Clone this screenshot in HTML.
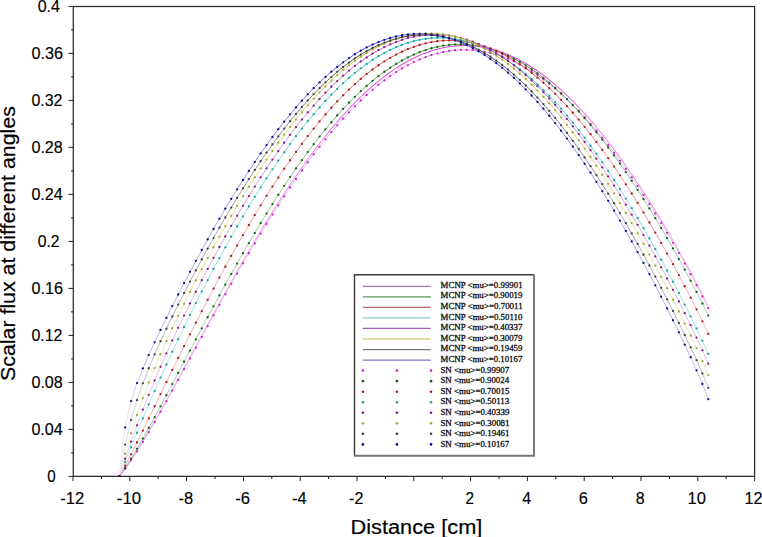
<!DOCTYPE html>
<html><head><meta charset="utf-8"><style>
html,body{margin:0;padding:0;background:#fff;width:762px;height:537px;overflow:hidden}
</style></head><body>
<svg width="762" height="537" viewBox="0 0 762 537" style="position:absolute;left:0;top:0">
<rect width="762" height="537" fill="#fff"/>
<defs><clipPath id="pc"><rect x="73" y="6.4" width="681.6" height="470"/></clipPath></defs>
<g clip-path="url(#pc)">
<polyline points="119.29,476.40 125.18,468.79" fill="none" stroke="#f1bbf1" stroke-width="1"/>
<polyline points="125.18,468.79 131.07,460.33" fill="none" stroke="#f2c1f2" stroke-width="1"/>
<polyline points="131.07,460.33 136.96,451.30" fill="none" stroke="#f3c5f3" stroke-width="1"/>
<polyline points="136.96,451.30 142.85,441.84" fill="none" stroke="#f3c7f3" stroke-width="1"/>
<polyline points="142.85,441.84 148.74,432.03" fill="none" stroke="#f4c9f4" stroke-width="1"/>
<polyline points="148.74,432.03 154.63,421.95" fill="none" stroke="#f4caf4" stroke-width="1"/>
<polyline points="154.63,421.95 160.52,411.66" fill="none" stroke="#f4cbf4" stroke-width="1"/>
<polyline points="160.52,411.66 166.41,401.20" fill="none" stroke="#f4ccf4" stroke-width="1"/>
<polyline points="166.41,401.20 172.30,390.61 178.19,379.94" fill="none" stroke="#f5cdf5" stroke-width="1"/>
<polyline points="178.19,379.94 184.08,369.20 189.97,358.43 195.86,347.65 201.75,336.88 207.64,326.15" fill="none" stroke="#f5cef5" stroke-width="1"/>
<polyline points="207.64,326.15 213.53,315.46 219.42,304.84 225.31,294.30" fill="none" stroke="#f5cdf5" stroke-width="1"/>
<polyline points="225.31,294.30 231.21,283.86 237.10,273.53" fill="none" stroke="#f4ccf4" stroke-width="1"/>
<polyline points="237.10,273.53 242.99,263.33" fill="none" stroke="#f4cbf4" stroke-width="1"/>
<polyline points="242.99,263.33 248.88,253.26 254.77,243.34" fill="none" stroke="#f4caf4" stroke-width="1"/>
<polyline points="254.77,243.34 260.66,233.58" fill="none" stroke="#f4c9f4" stroke-width="1"/>
<polyline points="260.66,233.58 266.55,223.99" fill="none" stroke="#f4c8f4" stroke-width="1"/>
<polyline points="266.55,223.99 272.44,214.57" fill="none" stroke="#f3c7f3" stroke-width="1"/>
<polyline points="272.44,214.57 278.33,205.35" fill="none" stroke="#f3c6f3" stroke-width="1"/>
<polyline points="278.33,205.35 284.22,196.32" fill="none" stroke="#f3c5f3" stroke-width="1"/>
<polyline points="284.22,196.32 290.11,187.50" fill="none" stroke="#f3c3f3" stroke-width="1"/>
<polyline points="290.11,187.50 296.00,178.89" fill="none" stroke="#f2c2f2" stroke-width="1"/>
<polyline points="296.00,178.89 301.89,170.51" fill="none" stroke="#f2c1f2" stroke-width="1"/>
<polyline points="301.89,170.51 307.78,162.36" fill="none" stroke="#f2bff2" stroke-width="1"/>
<polyline points="307.78,162.36 313.67,154.45" fill="none" stroke="#f1bef1" stroke-width="1"/>
<polyline points="313.67,154.45 319.56,146.78" fill="none" stroke="#f1bcf1" stroke-width="1"/>
<polyline points="319.56,146.78 325.45,139.36" fill="none" stroke="#f1baf1" stroke-width="1"/>
<polyline points="325.45,139.36 331.34,132.21" fill="none" stroke="#f0b8f0" stroke-width="1"/>
<polyline points="331.34,132.21 337.23,125.31" fill="none" stroke="#f0b6f0" stroke-width="1"/>
<polyline points="337.23,125.31 343.12,118.69" fill="none" stroke="#efb4ef" stroke-width="1"/>
<polyline points="343.12,118.69 349.01,112.34" fill="none" stroke="#efb1ef" stroke-width="1"/>
<polyline points="349.01,112.34 354.90,106.28" fill="none" stroke="#eeafee" stroke-width="1"/>
<polyline points="354.90,106.28 360.79,100.50" fill="none" stroke="#eeacee" stroke-width="1"/>
<polyline points="360.79,100.50 366.68,95.01" fill="none" stroke="#edaaed" stroke-width="1"/>
<polyline points="366.68,95.01 372.57,89.82" fill="none" stroke="#eda7ed" stroke-width="1"/>
<polyline points="372.57,89.82 378.46,84.94" fill="none" stroke="#eca4ec" stroke-width="1"/>
<polyline points="378.46,84.94 384.35,80.35" fill="none" stroke="#eba1eb" stroke-width="1"/>
<polyline points="384.35,80.35 390.24,76.07" fill="none" stroke="#eb9eeb" stroke-width="1"/>
<polyline points="390.24,76.07 396.13,72.11" fill="none" stroke="#ea9bea" stroke-width="1"/>
<polyline points="396.13,72.11 402.02,68.46 407.91,65.13 413.80,62.12 419.69,59.43 425.58,57.07 431.47,55.03 437.36,53.33 443.25,51.96 449.14,50.91 455.03,50.20 460.92,49.83 466.81,49.78 472.70,50.07 478.59,50.70 484.48,51.65 490.37,52.94 496.26,54.56 502.15,56.51 508.04,58.79 513.93,61.40 519.82,64.33 525.71,67.58 531.60,71.16 537.49,75.05" fill="none" stroke="#ea9aea" stroke-width="1"/>
<polyline points="537.49,75.05 543.38,79.25" fill="none" stroke="#eb9deb" stroke-width="1"/>
<polyline points="543.38,79.25 549.27,83.77" fill="none" stroke="#eba0eb" stroke-width="1"/>
<polyline points="549.27,83.77 555.16,88.60" fill="none" stroke="#eca3ec" stroke-width="1"/>
<polyline points="555.16,88.60 561.05,93.72" fill="none" stroke="#eda6ed" stroke-width="1"/>
<polyline points="561.05,93.72 566.94,99.15" fill="none" stroke="#eda9ed" stroke-width="1"/>
<polyline points="566.94,99.15 572.83,104.88" fill="none" stroke="#eeacee" stroke-width="1"/>
<polyline points="572.83,104.88 578.72,110.90" fill="none" stroke="#eeafee" stroke-width="1"/>
<polyline points="578.72,110.90 584.61,117.20" fill="none" stroke="#efb1ef" stroke-width="1"/>
<polyline points="584.61,117.20 590.50,123.79" fill="none" stroke="#efb3ef" stroke-width="1"/>
<polyline points="590.50,123.79 596.39,130.65" fill="none" stroke="#f0b6f0" stroke-width="1"/>
<polyline points="596.39,130.65 602.29,137.79" fill="none" stroke="#f0b8f0" stroke-width="1"/>
<polyline points="602.29,137.79 608.18,145.20" fill="none" stroke="#f1baf1" stroke-width="1"/>
<polyline points="608.18,145.20 614.07,152.87" fill="none" stroke="#f1bcf1" stroke-width="1"/>
<polyline points="614.07,152.87 619.96,160.79" fill="none" stroke="#f1bef1" stroke-width="1"/>
<polyline points="619.96,160.79 625.85,168.97" fill="none" stroke="#f2bff2" stroke-width="1"/>
<polyline points="625.85,168.97 631.74,177.39" fill="none" stroke="#f2c1f2" stroke-width="1"/>
<polyline points="631.74,177.39 637.63,186.06" fill="none" stroke="#f2c2f2" stroke-width="1"/>
<polyline points="637.63,186.06 643.52,194.96" fill="none" stroke="#f3c4f3" stroke-width="1"/>
<polyline points="643.52,194.96 649.41,204.09" fill="none" stroke="#f3c5f3" stroke-width="1"/>
<polyline points="649.41,204.09 655.30,213.45" fill="none" stroke="#f3c7f3" stroke-width="1"/>
<polyline points="655.30,213.45 661.19,223.03" fill="none" stroke="#f4c8f4" stroke-width="1"/>
<polyline points="661.19,223.03 667.08,232.84" fill="none" stroke="#f4c9f4" stroke-width="1"/>
<polyline points="667.08,232.84 672.97,242.86" fill="none" stroke="#f4caf4" stroke-width="1"/>
<polyline points="672.97,242.86 678.86,253.10" fill="none" stroke="#f4cbf4" stroke-width="1"/>
<polyline points="678.86,253.10 684.75,263.57" fill="none" stroke="#f4ccf4" stroke-width="1"/>
<polyline points="684.75,263.57 690.64,274.27" fill="none" stroke="#f5cdf5" stroke-width="1"/>
<polyline points="690.64,274.27 696.53,285.23" fill="none" stroke="#f5cff5" stroke-width="1"/>
<polyline points="696.53,285.23 702.42,296.50" fill="none" stroke="#f5d0f5" stroke-width="1"/>
<polyline points="702.42,296.50 708.31,308.22" fill="none" stroke="#f6d2f6" stroke-width="1"/>
<polyline points="119.29,476.40 125.18,467.94" fill="none" stroke="#8fc58f" stroke-width="1"/>
<polyline points="125.18,467.94 131.07,458.63" fill="none" stroke="#98ca98" stroke-width="1"/>
<polyline points="131.07,458.63 136.96,448.78" fill="none" stroke="#9ecc9e" stroke-width="1"/>
<polyline points="136.96,448.78 142.85,438.53" fill="none" stroke="#a1cea1" stroke-width="1"/>
<polyline points="142.85,438.53 148.74,427.99" fill="none" stroke="#a4d0a4" stroke-width="1"/>
<polyline points="148.74,427.99 154.63,417.22" fill="none" stroke="#a6d1a6" stroke-width="1"/>
<polyline points="154.63,417.22 160.52,406.29" fill="none" stroke="#a7d1a7" stroke-width="1"/>
<polyline points="160.52,406.29 166.41,395.25" fill="none" stroke="#a8d2a8" stroke-width="1"/>
<polyline points="166.41,395.25 172.30,384.12 178.19,372.95 184.08,361.75 189.97,350.57 195.86,339.41" fill="none" stroke="#a9d2a9" stroke-width="1"/>
<polyline points="195.86,339.41 201.75,328.31 207.64,317.27" fill="none" stroke="#a8d2a8" stroke-width="1"/>
<polyline points="207.64,317.27 213.53,306.31" fill="none" stroke="#a7d1a7" stroke-width="1"/>
<polyline points="213.53,306.31 219.42,295.45 225.31,284.70" fill="none" stroke="#a6d1a6" stroke-width="1"/>
<polyline points="225.31,284.70 231.21,274.07" fill="none" stroke="#a4d0a4" stroke-width="1"/>
<polyline points="231.21,274.07 237.10,263.58" fill="none" stroke="#a3cfa3" stroke-width="1"/>
<polyline points="237.10,263.58 242.99,253.24" fill="none" stroke="#a2cfa2" stroke-width="1"/>
<polyline points="242.99,253.24 248.88,243.06" fill="none" stroke="#a1cea1" stroke-width="1"/>
<polyline points="248.88,243.06 254.77,233.05" fill="none" stroke="#9fcd9f" stroke-width="1"/>
<polyline points="254.77,233.05 260.66,223.22" fill="none" stroke="#9dcc9d" stroke-width="1"/>
<polyline points="260.66,223.22 266.55,213.57" fill="none" stroke="#9ccb9c" stroke-width="1"/>
<polyline points="266.55,213.57 272.44,204.12" fill="none" stroke="#9aca9a" stroke-width="1"/>
<polyline points="272.44,204.12 278.33,194.88" fill="none" stroke="#98c998" stroke-width="1"/>
<polyline points="278.33,194.88 284.22,185.85" fill="none" stroke="#95c895" stroke-width="1"/>
<polyline points="284.22,185.85 290.11,177.05" fill="none" stroke="#93c793" stroke-width="1"/>
<polyline points="290.11,177.05 296.00,168.47" fill="none" stroke="#90c690" stroke-width="1"/>
<polyline points="296.00,168.47 301.89,160.13" fill="none" stroke="#8ec48e" stroke-width="1"/>
<polyline points="301.89,160.13 307.78,152.04" fill="none" stroke="#8bc38b" stroke-width="1"/>
<polyline points="307.78,152.04 313.67,144.19" fill="none" stroke="#87c187" stroke-width="1"/>
<polyline points="313.67,144.19 319.56,136.61" fill="none" stroke="#84bf84" stroke-width="1"/>
<polyline points="319.56,136.61 325.45,129.28" fill="none" stroke="#81bd81" stroke-width="1"/>
<polyline points="325.45,129.28 331.34,122.23" fill="none" stroke="#7dbb7d" stroke-width="1"/>
<polyline points="331.34,122.23 337.23,115.45" fill="none" stroke="#79b979" stroke-width="1"/>
<polyline points="337.23,115.45 343.12,108.96" fill="none" stroke="#75b775" stroke-width="1"/>
<polyline points="343.12,108.96 349.01,102.75" fill="none" stroke="#70b570" stroke-width="1"/>
<polyline points="349.01,102.75 354.90,96.83" fill="none" stroke="#6cb26c" stroke-width="1"/>
<polyline points="354.90,96.83 360.79,91.21" fill="none" stroke="#67b067" stroke-width="1"/>
<polyline points="360.79,91.21 366.68,85.89" fill="none" stroke="#62ad62" stroke-width="1"/>
<polyline points="366.68,85.89 372.57,80.87" fill="none" stroke="#5cab5c" stroke-width="1"/>
<polyline points="372.57,80.87 378.46,76.17" fill="none" stroke="#57a857" stroke-width="1"/>
<polyline points="378.46,76.17 384.35,71.77" fill="none" stroke="#51a551" stroke-width="1"/>
<polyline points="384.35,71.77 390.24,67.69" fill="none" stroke="#4ba24b" stroke-width="1"/>
<polyline points="390.24,67.69 396.13,63.94 402.02,60.50 407.91,57.39 413.80,54.61 419.69,52.15 425.58,50.03 431.47,48.25 437.36,46.79 443.25,45.68 449.14,44.90 455.03,44.46 460.92,44.35 466.81,44.59 472.70,45.16 478.59,46.07 484.48,47.32 490.37,48.90 496.26,50.82 502.15,53.07 508.04,55.65 513.93,58.56 519.82,61.80 525.71,65.37 531.60,69.25" fill="none" stroke="#48a048" stroke-width="1"/>
<polyline points="531.60,69.25 537.49,73.46" fill="none" stroke="#4ea34e" stroke-width="1"/>
<polyline points="537.49,73.46 543.38,77.98" fill="none" stroke="#53a653" stroke-width="1"/>
<polyline points="543.38,77.98 549.27,82.81" fill="none" stroke="#59a959" stroke-width="1"/>
<polyline points="549.27,82.81 555.16,87.95" fill="none" stroke="#5eac5e" stroke-width="1"/>
<polyline points="555.16,87.95 561.05,93.40" fill="none" stroke="#64ae64" stroke-width="1"/>
<polyline points="561.05,93.40 566.94,99.14" fill="none" stroke="#69b169" stroke-width="1"/>
<polyline points="566.94,99.14 572.83,105.19" fill="none" stroke="#6eb46e" stroke-width="1"/>
<polyline points="572.83,105.19 578.72,111.52" fill="none" stroke="#72b672" stroke-width="1"/>
<polyline points="578.72,111.52 584.61,118.14" fill="none" stroke="#77b877" stroke-width="1"/>
<polyline points="584.61,118.14 590.50,125.05" fill="none" stroke="#7bba7b" stroke-width="1"/>
<polyline points="590.50,125.05 596.39,132.23" fill="none" stroke="#7fbc7f" stroke-width="1"/>
<polyline points="596.39,132.23 602.29,139.68" fill="none" stroke="#82be82" stroke-width="1"/>
<polyline points="602.29,139.68 608.18,147.40" fill="none" stroke="#86c086" stroke-width="1"/>
<polyline points="608.18,147.40 614.07,155.38" fill="none" stroke="#89c289" stroke-width="1"/>
<polyline points="614.07,155.38 619.96,163.62" fill="none" stroke="#8cc38c" stroke-width="1"/>
<polyline points="619.96,163.62 625.85,172.10" fill="none" stroke="#8fc58f" stroke-width="1"/>
<polyline points="625.85,172.10 631.74,180.84" fill="none" stroke="#92c692" stroke-width="1"/>
<polyline points="631.74,180.84 637.63,189.81" fill="none" stroke="#95c895" stroke-width="1"/>
<polyline points="637.63,189.81 643.52,199.01" fill="none" stroke="#97c997" stroke-width="1"/>
<polyline points="643.52,199.01 649.41,208.44" fill="none" stroke="#99ca99" stroke-width="1"/>
<polyline points="649.41,208.44 655.30,218.10" fill="none" stroke="#9ccb9c" stroke-width="1"/>
<polyline points="655.30,218.10 661.19,227.98" fill="none" stroke="#9ecd9e" stroke-width="1"/>
<polyline points="661.19,227.98 667.08,238.07" fill="none" stroke="#a0cea0" stroke-width="1"/>
<polyline points="667.08,238.07 672.97,248.39" fill="none" stroke="#a2cfa2" stroke-width="1"/>
<polyline points="672.97,248.39 678.86,258.92" fill="none" stroke="#a4d0a4" stroke-width="1"/>
<polyline points="678.86,258.92 684.75,269.67" fill="none" stroke="#a6d1a6" stroke-width="1"/>
<polyline points="684.75,269.67 690.64,280.67" fill="none" stroke="#a8d2a8" stroke-width="1"/>
<polyline points="690.64,280.67 696.53,291.92" fill="none" stroke="#aad3aa" stroke-width="1"/>
<polyline points="696.53,291.92 702.42,303.49" fill="none" stroke="#acd4ac" stroke-width="1"/>
<polyline points="702.42,303.49 708.31,315.55" fill="none" stroke="#afd6af" stroke-width="1"/>
<polyline points="119.29,476.40 125.18,465.72" fill="none" stroke="#ecadad" stroke-width="1"/>
<polyline points="125.18,465.72 131.07,454.31" fill="none" stroke="#edb2b2" stroke-width="1"/>
<polyline points="131.07,454.31 136.96,442.52" fill="none" stroke="#eeb5b5" stroke-width="1"/>
<polyline points="136.96,442.52 142.85,430.53" fill="none" stroke="#eeb6b6" stroke-width="1"/>
<polyline points="142.85,430.53 148.74,418.42 154.63,406.27 160.52,394.12 166.41,382.00" fill="none" stroke="#eeb7b7" stroke-width="1"/>
<polyline points="166.41,382.00 172.30,369.95 178.19,357.97" fill="none" stroke="#eeb6b6" stroke-width="1"/>
<polyline points="178.19,357.97 184.08,346.09 189.97,334.33" fill="none" stroke="#eeb5b5" stroke-width="1"/>
<polyline points="189.97,334.33 195.86,322.68" fill="none" stroke="#edb4b4" stroke-width="1"/>
<polyline points="195.86,322.68 201.75,311.17" fill="none" stroke="#edb3b3" stroke-width="1"/>
<polyline points="201.75,311.17 207.64,299.81" fill="none" stroke="#edb2b2" stroke-width="1"/>
<polyline points="207.64,299.81 213.53,288.60" fill="none" stroke="#edb1b1" stroke-width="1"/>
<polyline points="213.53,288.60 219.42,277.55" fill="none" stroke="#ecb0b0" stroke-width="1"/>
<polyline points="219.42,277.55 225.31,266.67" fill="none" stroke="#ecaeae" stroke-width="1"/>
<polyline points="225.31,266.67 231.21,255.96" fill="none" stroke="#ecadad" stroke-width="1"/>
<polyline points="231.21,255.96 237.10,245.44" fill="none" stroke="#ecacac" stroke-width="1"/>
<polyline points="237.10,245.44 242.99,235.12" fill="none" stroke="#ebaaaa" stroke-width="1"/>
<polyline points="242.99,235.12 248.88,224.99" fill="none" stroke="#eba8a8" stroke-width="1"/>
<polyline points="248.88,224.99 254.77,215.07" fill="none" stroke="#eaa7a7" stroke-width="1"/>
<polyline points="254.77,215.07 260.66,205.35" fill="none" stroke="#eaa5a5" stroke-width="1"/>
<polyline points="260.66,205.35 266.55,195.86" fill="none" stroke="#e9a3a3" stroke-width="1"/>
<polyline points="266.55,195.86 272.44,186.60" fill="none" stroke="#e9a1a1" stroke-width="1"/>
<polyline points="272.44,186.60 278.33,177.57" fill="none" stroke="#e89f9f" stroke-width="1"/>
<polyline points="278.33,177.57 284.22,168.77" fill="none" stroke="#e89c9c" stroke-width="1"/>
<polyline points="284.22,168.77 290.11,160.23" fill="none" stroke="#e79a9a" stroke-width="1"/>
<polyline points="290.11,160.23 296.00,151.93" fill="none" stroke="#e79797" stroke-width="1"/>
<polyline points="296.00,151.93 301.89,143.89" fill="none" stroke="#e69494" stroke-width="1"/>
<polyline points="301.89,143.89 307.78,136.12" fill="none" stroke="#e59191" stroke-width="1"/>
<polyline points="307.78,136.12 313.67,128.61" fill="none" stroke="#e58e8e" stroke-width="1"/>
<polyline points="313.67,128.61 319.56,121.38" fill="none" stroke="#e48b8b" stroke-width="1"/>
<polyline points="319.56,121.38 325.45,114.43" fill="none" stroke="#e38787" stroke-width="1"/>
<polyline points="325.45,114.43 331.34,107.77" fill="none" stroke="#e28383" stroke-width="1"/>
<polyline points="331.34,107.77 337.23,101.39" fill="none" stroke="#e17f7f" stroke-width="1"/>
<polyline points="337.23,101.39 343.12,95.31" fill="none" stroke="#e07b7b" stroke-width="1"/>
<polyline points="343.12,95.31 349.01,89.53" fill="none" stroke="#df7676" stroke-width="1"/>
<polyline points="349.01,89.53 354.90,84.05" fill="none" stroke="#de7272" stroke-width="1"/>
<polyline points="354.90,84.05 360.79,78.88" fill="none" stroke="#dd6d6d" stroke-width="1"/>
<polyline points="360.79,78.88 366.68,74.03" fill="none" stroke="#dc6868" stroke-width="1"/>
<polyline points="366.68,74.03 372.57,69.49" fill="none" stroke="#da6363" stroke-width="1"/>
<polyline points="372.57,69.49 378.46,65.26" fill="none" stroke="#d95d5d" stroke-width="1"/>
<polyline points="378.46,65.26 384.35,61.36 390.24,57.79 396.13,54.54 402.02,51.63 407.91,49.05 413.80,46.80 419.69,44.89 425.58,43.31 431.47,42.08 437.36,41.18 443.25,40.63 449.14,40.42 455.03,40.55 460.92,41.02 466.81,41.83 472.70,42.98 478.59,44.47 484.48,46.30 490.37,48.47 496.26,50.97 502.15,53.80 508.04,56.97 513.93,60.46 519.82,64.28" fill="none" stroke="#d85858" stroke-width="1"/>
<polyline points="519.82,64.28 525.71,68.42" fill="none" stroke="#d95c5c" stroke-width="1"/>
<polyline points="525.71,68.42 531.60,72.88" fill="none" stroke="#da6161" stroke-width="1"/>
<polyline points="531.60,72.88 537.49,77.66" fill="none" stroke="#db6767" stroke-width="1"/>
<polyline points="537.49,77.66 543.38,82.75" fill="none" stroke="#dd6c6c" stroke-width="1"/>
<polyline points="543.38,82.75 549.27,88.15" fill="none" stroke="#de7171" stroke-width="1"/>
<polyline points="549.27,88.15 555.16,93.85" fill="none" stroke="#df7575" stroke-width="1"/>
<polyline points="555.16,93.85 561.05,99.86" fill="none" stroke="#e07a7a" stroke-width="1"/>
<polyline points="561.05,99.86 566.94,106.16" fill="none" stroke="#e17e7e" stroke-width="1"/>
<polyline points="566.94,106.16 572.83,112.75" fill="none" stroke="#e28282" stroke-width="1"/>
<polyline points="572.83,112.75 578.72,119.63" fill="none" stroke="#e38686" stroke-width="1"/>
<polyline points="578.72,119.63 584.61,126.78" fill="none" stroke="#e48a8a" stroke-width="1"/>
<polyline points="584.61,126.78 590.50,134.22" fill="none" stroke="#e48d8d" stroke-width="1"/>
<polyline points="590.50,134.22 596.39,141.92" fill="none" stroke="#e59090" stroke-width="1"/>
<polyline points="596.39,141.92 602.29,149.89" fill="none" stroke="#e69393" stroke-width="1"/>
<polyline points="602.29,149.89 608.18,158.12" fill="none" stroke="#e79696" stroke-width="1"/>
<polyline points="608.18,158.12 614.07,166.60" fill="none" stroke="#e79999" stroke-width="1"/>
<polyline points="614.07,166.60 619.96,175.33" fill="none" stroke="#e89c9c" stroke-width="1"/>
<polyline points="619.96,175.33 625.85,184.30" fill="none" stroke="#e89e9e" stroke-width="1"/>
<polyline points="625.85,184.30 631.74,193.50" fill="none" stroke="#e9a0a0" stroke-width="1"/>
<polyline points="631.74,193.50 637.63,202.94" fill="none" stroke="#e9a2a2" stroke-width="1"/>
<polyline points="637.63,202.94 643.52,212.60" fill="none" stroke="#eaa4a4" stroke-width="1"/>
<polyline points="643.52,212.60 649.41,222.48" fill="none" stroke="#eaa6a6" stroke-width="1"/>
<polyline points="649.41,222.48 655.30,232.58" fill="none" stroke="#eba8a8" stroke-width="1"/>
<polyline points="655.30,232.58 661.19,242.89" fill="none" stroke="#ebaaaa" stroke-width="1"/>
<polyline points="661.19,242.89 667.08,253.41" fill="none" stroke="#ecacac" stroke-width="1"/>
<polyline points="667.08,253.41 672.97,264.14" fill="none" stroke="#ecadad" stroke-width="1"/>
<polyline points="672.97,264.14 678.86,275.08" fill="none" stroke="#ecafaf" stroke-width="1"/>
<polyline points="678.86,275.08 684.75,286.24" fill="none" stroke="#edb0b0" stroke-width="1"/>
<polyline points="684.75,286.24 690.64,297.65" fill="none" stroke="#edb2b2" stroke-width="1"/>
<polyline points="690.64,297.65 696.53,309.32" fill="none" stroke="#edb4b4" stroke-width="1"/>
<polyline points="696.53,309.32 702.42,321.33" fill="none" stroke="#eeb6b6" stroke-width="1"/>
<polyline points="702.42,321.33 708.31,333.87" fill="none" stroke="#efb9b9" stroke-width="1"/>
<polyline points="119.29,476.40 125.18,461.92" fill="none" stroke="#b5eaea" stroke-width="1"/>
<polyline points="125.18,461.92 131.07,447.24" fill="none" stroke="#b6eaea" stroke-width="1"/>
<polyline points="131.07,447.24 136.96,432.71" fill="none" stroke="#b5eaea" stroke-width="1"/>
<polyline points="136.96,432.71 142.85,418.46" fill="none" stroke="#b4eaea" stroke-width="1"/>
<polyline points="142.85,418.46 148.74,404.51" fill="none" stroke="#b2e9e9" stroke-width="1"/>
<polyline points="148.74,404.51 154.63,390.88" fill="none" stroke="#b0e9e9" stroke-width="1"/>
<polyline points="154.63,390.88 160.52,377.55" fill="none" stroke="#aee8e8" stroke-width="1"/>
<polyline points="160.52,377.55 166.41,364.51" fill="none" stroke="#ace7e7" stroke-width="1"/>
<polyline points="166.41,364.51 172.30,351.75" fill="none" stroke="#aae7e7" stroke-width="1"/>
<polyline points="172.30,351.75 178.19,339.23" fill="none" stroke="#a8e6e6" stroke-width="1"/>
<polyline points="178.19,339.23 184.08,326.97" fill="none" stroke="#a7e6e6" stroke-width="1"/>
<polyline points="184.08,326.97 189.97,314.93" fill="none" stroke="#a5e5e5" stroke-width="1"/>
<polyline points="189.97,314.93 195.86,303.12" fill="none" stroke="#a3e5e5" stroke-width="1"/>
<polyline points="195.86,303.12 201.75,291.53" fill="none" stroke="#a1e4e4" stroke-width="1"/>
<polyline points="201.75,291.53 207.64,280.16" fill="none" stroke="#9fe4e4" stroke-width="1"/>
<polyline points="207.64,280.16 213.53,268.99" fill="none" stroke="#9ee3e3" stroke-width="1"/>
<polyline points="213.53,268.99 219.42,258.04" fill="none" stroke="#9ce3e3" stroke-width="1"/>
<polyline points="219.42,258.04 225.31,247.30" fill="none" stroke="#9ae2e2" stroke-width="1"/>
<polyline points="225.31,247.30 231.21,236.77" fill="none" stroke="#98e2e2" stroke-width="1"/>
<polyline points="231.21,236.77 237.10,226.46" fill="none" stroke="#96e1e1" stroke-width="1"/>
<polyline points="237.10,226.46 242.99,216.37" fill="none" stroke="#93e0e0" stroke-width="1"/>
<polyline points="242.99,216.37 248.88,206.51" fill="none" stroke="#91e0e0" stroke-width="1"/>
<polyline points="248.88,206.51 254.77,196.87" fill="none" stroke="#8edfdf" stroke-width="1"/>
<polyline points="254.77,196.87 260.66,187.46" fill="none" stroke="#8cdede" stroke-width="1"/>
<polyline points="260.66,187.46 266.55,178.29" fill="none" stroke="#89dddd" stroke-width="1"/>
<polyline points="266.55,178.29 272.44,169.37" fill="none" stroke="#86dddd" stroke-width="1"/>
<polyline points="272.44,169.37 278.33,160.69" fill="none" stroke="#83dcdc" stroke-width="1"/>
<polyline points="278.33,160.69 284.22,152.27" fill="none" stroke="#80dbdb" stroke-width="1"/>
<polyline points="284.22,152.27 290.11,144.11" fill="none" stroke="#7cdada" stroke-width="1"/>
<polyline points="290.11,144.11 296.00,136.21" fill="none" stroke="#79d9d9" stroke-width="1"/>
<polyline points="296.00,136.21 301.89,128.59" fill="none" stroke="#75d8d8" stroke-width="1"/>
<polyline points="301.89,128.59 307.78,121.23" fill="none" stroke="#71d6d6" stroke-width="1"/>
<polyline points="307.78,121.23 313.67,114.16" fill="none" stroke="#6cd5d5" stroke-width="1"/>
<polyline points="313.67,114.16 319.56,107.38" fill="none" stroke="#67d4d4" stroke-width="1"/>
<polyline points="319.56,107.38 325.45,100.89" fill="none" stroke="#63d2d2" stroke-width="1"/>
<polyline points="325.45,100.89 331.34,94.69" fill="none" stroke="#5dd1d1" stroke-width="1"/>
<polyline points="331.34,94.69 337.23,88.79" fill="none" stroke="#58cfcf" stroke-width="1"/>
<polyline points="337.23,88.79 343.12,83.19" fill="none" stroke="#52cece" stroke-width="1"/>
<polyline points="343.12,83.19 349.01,77.91" fill="none" stroke="#4ccccc" stroke-width="1"/>
<polyline points="349.01,77.91 354.90,72.94" fill="none" stroke="#46caca" stroke-width="1"/>
<polyline points="354.90,72.94 360.79,68.28" fill="none" stroke="#40c8c8" stroke-width="1"/>
<polyline points="360.79,68.28 366.68,63.95" fill="none" stroke="#39c7c7" stroke-width="1"/>
<polyline points="366.68,63.95 372.57,59.93" fill="none" stroke="#32c5c5" stroke-width="1"/>
<polyline points="372.57,59.93 378.46,56.25 384.35,52.89 390.24,49.87 396.13,47.18 402.02,44.82 407.91,42.80 413.80,41.13 419.69,39.79 425.58,38.79 431.47,38.14 437.36,37.83 443.25,37.87 449.14,38.25 455.03,38.97 460.92,40.03 466.81,41.43 472.70,43.18 478.59,45.26 484.48,47.69 490.37,50.44 496.26,53.53 502.15,56.96 508.04,60.71" fill="none" stroke="#30c4c4" stroke-width="1"/>
<polyline points="508.04,60.71 513.93,64.78" fill="none" stroke="#34c5c5" stroke-width="1"/>
<polyline points="513.93,64.78 519.82,69.18" fill="none" stroke="#3ac7c7" stroke-width="1"/>
<polyline points="519.82,69.18 525.71,73.90" fill="none" stroke="#41c9c9" stroke-width="1"/>
<polyline points="525.71,73.90 531.60,78.93" fill="none" stroke="#47cbcb" stroke-width="1"/>
<polyline points="531.60,78.93 537.49,84.28" fill="none" stroke="#4dcccc" stroke-width="1"/>
<polyline points="537.49,84.28 543.38,89.93" fill="none" stroke="#53cece" stroke-width="1"/>
<polyline points="543.38,89.93 549.27,95.89" fill="none" stroke="#59d0d0" stroke-width="1"/>
<polyline points="549.27,95.89 555.16,102.14" fill="none" stroke="#5ed1d1" stroke-width="1"/>
<polyline points="555.16,102.14 561.05,108.69" fill="none" stroke="#63d3d3" stroke-width="1"/>
<polyline points="561.05,108.69 566.94,115.53" fill="none" stroke="#68d4d4" stroke-width="1"/>
<polyline points="566.94,115.53 572.83,122.65" fill="none" stroke="#6dd5d5" stroke-width="1"/>
<polyline points="572.83,122.65 578.72,130.05" fill="none" stroke="#71d7d7" stroke-width="1"/>
<polyline points="578.72,130.05 584.61,137.72" fill="none" stroke="#75d8d8" stroke-width="1"/>
<polyline points="584.61,137.72 590.50,145.66" fill="none" stroke="#79d9d9" stroke-width="1"/>
<polyline points="590.50,145.66 596.39,153.86" fill="none" stroke="#7ddada" stroke-width="1"/>
<polyline points="596.39,153.86 602.29,162.32" fill="none" stroke="#80dbdb" stroke-width="1"/>
<polyline points="602.29,162.32 608.18,171.03" fill="none" stroke="#83dcdc" stroke-width="1"/>
<polyline points="608.18,171.03 614.07,179.98" fill="none" stroke="#86dddd" stroke-width="1"/>
<polyline points="614.07,179.98 619.96,189.17" fill="none" stroke="#89dddd" stroke-width="1"/>
<polyline points="619.96,189.17 625.85,198.59" fill="none" stroke="#8cdede" stroke-width="1"/>
<polyline points="625.85,198.59 631.74,208.23" fill="none" stroke="#8fdfdf" stroke-width="1"/>
<polyline points="631.74,208.23 637.63,218.10" fill="none" stroke="#91e0e0" stroke-width="1"/>
<polyline points="637.63,218.10 643.52,228.19" fill="none" stroke="#93e0e0" stroke-width="1"/>
<polyline points="643.52,228.19 649.41,238.48" fill="none" stroke="#95e1e1" stroke-width="1"/>
<polyline points="649.41,238.48 655.30,248.98" fill="none" stroke="#97e1e1" stroke-width="1"/>
<polyline points="655.30,248.98 661.19,259.68" fill="none" stroke="#99e2e2" stroke-width="1"/>
<polyline points="661.19,259.68 667.08,270.59" fill="none" stroke="#9be3e3" stroke-width="1"/>
<polyline points="667.08,270.59 672.97,281.70" fill="none" stroke="#9de3e3" stroke-width="1"/>
<polyline points="672.97,281.70 678.86,293.02" fill="none" stroke="#9fe4e4" stroke-width="1"/>
<polyline points="678.86,293.02 684.75,304.56" fill="none" stroke="#a1e4e4" stroke-width="1"/>
<polyline points="684.75,304.56 690.64,316.34" fill="none" stroke="#a3e5e5" stroke-width="1"/>
<polyline points="690.64,316.34 696.53,328.41" fill="none" stroke="#a5e5e5" stroke-width="1"/>
<polyline points="696.53,328.41 702.42,340.85" fill="none" stroke="#a8e6e6" stroke-width="1"/>
<polyline points="702.42,340.85 708.31,353.94" fill="none" stroke="#ade8e8" stroke-width="1"/>
<polyline points="119.29,476.40 125.18,458.77" fill="none" stroke="#edd2ed" stroke-width="1"/>
<polyline points="125.18,458.77 131.07,441.65" fill="none" stroke="#ecd0ec" stroke-width="1"/>
<polyline points="131.07,441.65 136.96,425.30" fill="none" stroke="#ebceeb" stroke-width="1"/>
<polyline points="136.96,425.30 142.85,409.71" fill="none" stroke="#eacbea" stroke-width="1"/>
<polyline points="142.85,409.71 148.74,394.82" fill="none" stroke="#e9c8e9" stroke-width="1"/>
<polyline points="148.74,394.82 154.63,380.52" fill="none" stroke="#e8c6e8" stroke-width="1"/>
<polyline points="154.63,380.52 160.52,366.73" fill="none" stroke="#e7c3e7" stroke-width="1"/>
<polyline points="160.52,366.73 166.41,353.39" fill="none" stroke="#e6c1e6" stroke-width="1"/>
<polyline points="166.41,353.39 172.30,340.44" fill="none" stroke="#e6bfe6" stroke-width="1"/>
<polyline points="172.30,340.44 178.19,327.84" fill="none" stroke="#e5bde5" stroke-width="1"/>
<polyline points="178.19,327.84 184.08,315.53" fill="none" stroke="#e4bbe4" stroke-width="1"/>
<polyline points="184.08,315.53 189.97,303.51" fill="none" stroke="#e4bae4" stroke-width="1"/>
<polyline points="189.97,303.51 195.86,291.74" fill="none" stroke="#e3b8e3" stroke-width="1"/>
<polyline points="195.86,291.74 201.75,280.22" fill="none" stroke="#e2b7e2" stroke-width="1"/>
<polyline points="201.75,280.22 207.64,268.92" fill="none" stroke="#e2b5e2" stroke-width="1"/>
<polyline points="207.64,268.92 213.53,257.85" fill="none" stroke="#e1b4e1" stroke-width="1"/>
<polyline points="213.53,257.85 219.42,247.01" fill="none" stroke="#e0b2e0" stroke-width="1"/>
<polyline points="219.42,247.01 225.31,236.38" fill="none" stroke="#e0b0e0" stroke-width="1"/>
<polyline points="225.31,236.38 231.21,225.97" fill="none" stroke="#dfafdf" stroke-width="1"/>
<polyline points="231.21,225.97 237.10,215.78" fill="none" stroke="#dfaddf" stroke-width="1"/>
<polyline points="237.10,215.78 242.99,205.82" fill="none" stroke="#deabde" stroke-width="1"/>
<polyline points="242.99,205.82 248.88,196.09" fill="none" stroke="#dda9dd" stroke-width="1"/>
<polyline points="248.88,196.09 254.77,186.59" fill="none" stroke="#dca7dc" stroke-width="1"/>
<polyline points="254.77,186.59 260.66,177.33" fill="none" stroke="#dba5db" stroke-width="1"/>
<polyline points="260.66,177.33 266.55,168.31" fill="none" stroke="#dba3db" stroke-width="1"/>
<polyline points="266.55,168.31 272.44,159.54" fill="none" stroke="#daa1da" stroke-width="1"/>
<polyline points="272.44,159.54 278.33,151.03" fill="none" stroke="#d99ed9" stroke-width="1"/>
<polyline points="278.33,151.03 284.22,142.77" fill="none" stroke="#d89cd8" stroke-width="1"/>
<polyline points="284.22,142.77 290.11,134.78" fill="none" stroke="#d699d6" stroke-width="1"/>
<polyline points="290.11,134.78 296.00,127.06" fill="none" stroke="#d596d5" stroke-width="1"/>
<polyline points="296.00,127.06 301.89,119.62" fill="none" stroke="#d493d4" stroke-width="1"/>
<polyline points="301.89,119.62 307.78,112.46" fill="none" stroke="#d38fd3" stroke-width="1"/>
<polyline points="307.78,112.46 313.67,105.58" fill="none" stroke="#d18cd1" stroke-width="1"/>
<polyline points="313.67,105.58 319.56,99.00" fill="none" stroke="#d088d0" stroke-width="1"/>
<polyline points="319.56,99.00 325.45,92.71" fill="none" stroke="#ce84ce" stroke-width="1"/>
<polyline points="325.45,92.71 331.34,86.73" fill="none" stroke="#cd80cd" stroke-width="1"/>
<polyline points="331.34,86.73 337.23,81.05" fill="none" stroke="#cb7ccb" stroke-width="1"/>
<polyline points="337.23,81.05 343.12,75.68" fill="none" stroke="#c977c9" stroke-width="1"/>
<polyline points="343.12,75.68 349.01,70.62" fill="none" stroke="#c772c7" stroke-width="1"/>
<polyline points="349.01,70.62 354.90,65.89" fill="none" stroke="#c56dc5" stroke-width="1"/>
<polyline points="354.90,65.89 360.79,61.47" fill="none" stroke="#c368c3" stroke-width="1"/>
<polyline points="360.79,61.47 366.68,57.38" fill="none" stroke="#c163c1" stroke-width="1"/>
<polyline points="366.68,57.38 372.57,53.62 378.46,50.19 384.35,47.09 390.24,44.33 396.13,41.91 402.02,39.83 407.91,38.09 413.80,36.69 419.69,35.64 425.58,34.93 431.47,34.57 437.36,34.55 443.25,34.88 449.14,35.56 455.03,36.58 460.92,37.94 466.81,39.65 472.70,41.70 478.59,44.09 484.48,46.82 490.37,49.88 496.26,53.28 502.15,57.01" fill="none" stroke="#c060c0" stroke-width="1"/>
<polyline points="502.15,57.01 508.04,61.07" fill="none" stroke="#c162c1" stroke-width="1"/>
<polyline points="508.04,61.07 513.93,65.45" fill="none" stroke="#c368c3" stroke-width="1"/>
<polyline points="513.93,65.45 519.82,70.16" fill="none" stroke="#c56dc5" stroke-width="1"/>
<polyline points="519.82,70.16 525.71,75.18" fill="none" stroke="#c772c7" stroke-width="1"/>
<polyline points="525.71,75.18 531.60,80.52" fill="none" stroke="#c977c9" stroke-width="1"/>
<polyline points="531.60,80.52 537.49,86.17" fill="none" stroke="#cb7bcb" stroke-width="1"/>
<polyline points="537.49,86.17 543.38,92.13" fill="none" stroke="#cc7fcc" stroke-width="1"/>
<polyline points="543.38,92.13 549.27,98.38" fill="none" stroke="#ce84ce" stroke-width="1"/>
<polyline points="549.27,98.38 555.16,104.94" fill="none" stroke="#d088d0" stroke-width="1"/>
<polyline points="555.16,104.94 561.05,111.78" fill="none" stroke="#d18bd1" stroke-width="1"/>
<polyline points="561.05,111.78 566.94,118.92" fill="none" stroke="#d38fd3" stroke-width="1"/>
<polyline points="566.94,118.92 572.83,126.33" fill="none" stroke="#d492d4" stroke-width="1"/>
<polyline points="572.83,126.33 578.72,134.02" fill="none" stroke="#d595d5" stroke-width="1"/>
<polyline points="578.72,134.02 584.61,141.98" fill="none" stroke="#d698d6" stroke-width="1"/>
<polyline points="584.61,141.98 590.50,150.20" fill="none" stroke="#d79bd7" stroke-width="1"/>
<polyline points="590.50,150.20 596.39,158.68" fill="none" stroke="#d99ed9" stroke-width="1"/>
<polyline points="596.39,158.68 602.29,167.42" fill="none" stroke="#daa0da" stroke-width="1"/>
<polyline points="602.29,167.42 608.18,176.40" fill="none" stroke="#daa3da" stroke-width="1"/>
<polyline points="608.18,176.40 614.07,185.62" fill="none" stroke="#dba5db" stroke-width="1"/>
<polyline points="614.07,185.62 619.96,195.07" fill="none" stroke="#dca7dc" stroke-width="1"/>
<polyline points="619.96,195.07 625.85,204.76" fill="none" stroke="#dda9dd" stroke-width="1"/>
<polyline points="625.85,204.76 631.74,214.66" fill="none" stroke="#deabde" stroke-width="1"/>
<polyline points="631.74,214.66 637.63,224.78" fill="none" stroke="#deadde" stroke-width="1"/>
<polyline points="637.63,224.78 643.52,235.12" fill="none" stroke="#dfaedf" stroke-width="1"/>
<polyline points="643.52,235.12 649.41,245.66" fill="none" stroke="#e0b0e0" stroke-width="1"/>
<polyline points="649.41,245.66 655.30,256.40" fill="none" stroke="#e0b1e0" stroke-width="1"/>
<polyline points="655.30,256.40 661.19,267.34" fill="none" stroke="#e1b3e1" stroke-width="1"/>
<polyline points="661.19,267.34 667.08,278.49" fill="none" stroke="#e1b4e1" stroke-width="1"/>
<polyline points="667.08,278.49 672.97,289.84" fill="none" stroke="#e2b5e2" stroke-width="1"/>
<polyline points="672.97,289.84 678.86,301.39" fill="none" stroke="#e2b7e2" stroke-width="1"/>
<polyline points="678.86,301.39 684.75,313.17" fill="none" stroke="#e3b8e3" stroke-width="1"/>
<polyline points="684.75,313.17 690.64,325.20" fill="none" stroke="#e4bae4" stroke-width="1"/>
<polyline points="690.64,325.20 696.53,337.54" fill="none" stroke="#e4bce4" stroke-width="1"/>
<polyline points="696.53,337.54 702.42,350.28" fill="none" stroke="#e5bee5" stroke-width="1"/>
<polyline points="702.42,350.28 708.31,363.74" fill="none" stroke="#e7c2e7" stroke-width="1"/>
<polyline points="119.29,476.40 125.18,453.74" fill="none" stroke="#f4f4da" stroke-width="1"/>
<polyline points="125.18,453.74 131.07,433.31" fill="none" stroke="#f3f3d5" stroke-width="1"/>
<polyline points="131.07,433.31 136.96,414.91" fill="none" stroke="#f1f1d0" stroke-width="1"/>
<polyline points="136.96,414.91 142.85,398.14" fill="none" stroke="#f0f0ca" stroke-width="1"/>
<polyline points="142.85,398.14 148.74,382.62" fill="none" stroke="#eeeec5" stroke-width="1"/>
<polyline points="148.74,382.62 154.63,368.07" fill="none" stroke="#ededc1" stroke-width="1"/>
<polyline points="154.63,368.07 160.52,354.26" fill="none" stroke="#ececbd" stroke-width="1"/>
<polyline points="160.52,354.26 166.41,341.02" fill="none" stroke="#ebebba" stroke-width="1"/>
<polyline points="166.41,341.02 172.30,328.26" fill="none" stroke="#eaeab7" stroke-width="1"/>
<polyline points="172.30,328.26 178.19,315.87" fill="none" stroke="#e9e9b5" stroke-width="1"/>
<polyline points="178.19,315.87 184.08,303.80" fill="none" stroke="#e9e9b3" stroke-width="1"/>
<polyline points="184.08,303.80 189.97,292.02" fill="none" stroke="#e8e8b1" stroke-width="1"/>
<polyline points="189.97,292.02 195.86,280.49" fill="none" stroke="#e8e8af" stroke-width="1"/>
<polyline points="195.86,280.49 201.75,269.19" fill="none" stroke="#e7e7ae" stroke-width="1"/>
<polyline points="201.75,269.19 207.64,258.12" fill="none" stroke="#e7e7ac" stroke-width="1"/>
<polyline points="207.64,258.12 213.53,247.27" fill="none" stroke="#e6e6aa" stroke-width="1"/>
<polyline points="213.53,247.27 219.42,236.63" fill="none" stroke="#e6e6a9" stroke-width="1"/>
<polyline points="219.42,236.63 225.31,226.21" fill="none" stroke="#e5e5a7" stroke-width="1"/>
<polyline points="225.31,226.21 231.21,216.00" fill="none" stroke="#e5e5a5" stroke-width="1"/>
<polyline points="231.21,216.00 237.10,206.02" fill="none" stroke="#e4e4a3" stroke-width="1"/>
<polyline points="237.10,206.02 242.99,196.26" fill="none" stroke="#e4e4a1" stroke-width="1"/>
<polyline points="242.99,196.26 248.88,186.73" fill="none" stroke="#e3e39f" stroke-width="1"/>
<polyline points="248.88,186.73 254.77,177.44" fill="none" stroke="#e2e29d" stroke-width="1"/>
<polyline points="254.77,177.44 260.66,168.38" fill="none" stroke="#e2e29a" stroke-width="1"/>
<polyline points="260.66,168.38 266.55,159.58" fill="none" stroke="#e1e198" stroke-width="1"/>
<polyline points="266.55,159.58 272.44,151.02" fill="none" stroke="#e0e095" stroke-width="1"/>
<polyline points="272.44,151.02 278.33,142.73" fill="none" stroke="#dfdf92" stroke-width="1"/>
<polyline points="278.33,142.73 284.22,134.69" fill="none" stroke="#dede8f" stroke-width="1"/>
<polyline points="284.22,134.69 290.11,126.93" fill="none" stroke="#dddd8c" stroke-width="1"/>
<polyline points="290.11,126.93 296.00,119.44" fill="none" stroke="#dcdc88" stroke-width="1"/>
<polyline points="296.00,119.44 301.89,112.24" fill="none" stroke="#dbdb85" stroke-width="1"/>
<polyline points="301.89,112.24 307.78,105.32" fill="none" stroke="#dada81" stroke-width="1"/>
<polyline points="307.78,105.32 313.67,98.69" fill="none" stroke="#d9d97d" stroke-width="1"/>
<polyline points="313.67,98.69 319.56,92.36" fill="none" stroke="#d8d878" stroke-width="1"/>
<polyline points="319.56,92.36 325.45,86.33" fill="none" stroke="#d6d674" stroke-width="1"/>
<polyline points="325.45,86.33 331.34,80.61" fill="none" stroke="#d5d56f" stroke-width="1"/>
<polyline points="331.34,80.61 337.23,75.20" fill="none" stroke="#d4d46a" stroke-width="1"/>
<polyline points="337.23,75.20 343.12,70.10" fill="none" stroke="#d2d265" stroke-width="1"/>
<polyline points="343.12,70.10 349.01,65.32" fill="none" stroke="#d0d05f" stroke-width="1"/>
<polyline points="349.01,65.32 354.90,60.86" fill="none" stroke="#cfcf5a" stroke-width="1"/>
<polyline points="354.90,60.86 360.79,56.73" fill="none" stroke="#cdcd54" stroke-width="1"/>
<polyline points="360.79,56.73 366.68,52.92 372.57,49.45 378.46,46.31 384.35,43.51 390.24,41.05 396.13,38.93 402.02,37.15 407.91,35.72 413.80,34.63 419.69,33.88 425.58,33.48 431.47,33.43 437.36,33.73 443.25,34.37 449.14,35.36 455.03,36.69 460.92,38.37 466.81,40.39 472.70,42.75 478.59,45.46 484.48,48.49 490.37,51.87 496.26,55.57" fill="none" stroke="#cccc50" stroke-width="1"/>
<polyline points="496.26,55.57 502.15,59.61" fill="none" stroke="#cdcd52" stroke-width="1"/>
<polyline points="502.15,59.61 508.04,63.97" fill="none" stroke="#cece58" stroke-width="1"/>
<polyline points="508.04,63.97 513.93,68.66" fill="none" stroke="#d0d05e" stroke-width="1"/>
<polyline points="513.93,68.66 519.82,73.66" fill="none" stroke="#d2d263" stroke-width="1"/>
<polyline points="519.82,73.66 525.71,78.99" fill="none" stroke="#d3d368" stroke-width="1"/>
<polyline points="525.71,78.99 531.60,84.62" fill="none" stroke="#d5d56e" stroke-width="1"/>
<polyline points="531.60,84.62 537.49,90.56" fill="none" stroke="#d6d672" stroke-width="1"/>
<polyline points="537.49,90.56 543.38,96.80" fill="none" stroke="#d7d777" stroke-width="1"/>
<polyline points="543.38,96.80 549.27,103.34" fill="none" stroke="#d9d97b" stroke-width="1"/>
<polyline points="549.27,103.34 555.16,110.17" fill="none" stroke="#dada80" stroke-width="1"/>
<polyline points="555.16,110.17 561.05,117.29" fill="none" stroke="#dbdb83" stroke-width="1"/>
<polyline points="561.05,117.29 566.94,124.70" fill="none" stroke="#dcdc87" stroke-width="1"/>
<polyline points="566.94,124.70 572.83,132.38" fill="none" stroke="#dddd8b" stroke-width="1"/>
<polyline points="572.83,132.38 578.72,140.33" fill="none" stroke="#dede8e" stroke-width="1"/>
<polyline points="578.72,140.33 584.61,148.55" fill="none" stroke="#dfdf91" stroke-width="1"/>
<polyline points="584.61,148.55 590.50,157.02" fill="none" stroke="#e0e094" stroke-width="1"/>
<polyline points="590.50,157.02 596.39,165.75" fill="none" stroke="#e1e197" stroke-width="1"/>
<polyline points="596.39,165.75 602.29,174.73" fill="none" stroke="#e1e199" stroke-width="1"/>
<polyline points="602.29,174.73 608.18,183.95" fill="none" stroke="#e2e29c" stroke-width="1"/>
<polyline points="608.18,183.95 614.07,193.40" fill="none" stroke="#e3e39e" stroke-width="1"/>
<polyline points="614.07,193.40 619.96,203.08" fill="none" stroke="#e3e3a0" stroke-width="1"/>
<polyline points="619.96,203.08 625.85,212.99" fill="none" stroke="#e4e4a2" stroke-width="1"/>
<polyline points="625.85,212.99 631.74,223.11" fill="none" stroke="#e5e5a4" stroke-width="1"/>
<polyline points="631.74,223.11 637.63,233.44" fill="none" stroke="#e5e5a6" stroke-width="1"/>
<polyline points="637.63,233.44 643.52,243.98" fill="none" stroke="#e6e6a8" stroke-width="1"/>
<polyline points="643.52,243.98 649.41,254.72" fill="none" stroke="#e6e6a9" stroke-width="1"/>
<polyline points="649.41,254.72 655.30,265.66" fill="none" stroke="#e7e7ab" stroke-width="1"/>
<polyline points="655.30,265.66 661.19,276.80" fill="none" stroke="#e7e7ac" stroke-width="1"/>
<polyline points="661.19,276.80 667.08,288.14" fill="none" stroke="#e7e7ae" stroke-width="1"/>
<polyline points="667.08,288.14 672.97,299.67" fill="none" stroke="#e8e8af" stroke-width="1"/>
<polyline points="672.97,299.67 678.86,311.42" fill="none" stroke="#e8e8b1" stroke-width="1"/>
<polyline points="678.86,311.42 684.75,323.40" fill="none" stroke="#e9e9b2" stroke-width="1"/>
<polyline points="684.75,323.40 690.64,335.64" fill="none" stroke="#e9e9b4" stroke-width="1"/>
<polyline points="690.64,335.64 696.53,348.20" fill="none" stroke="#eaeab6" stroke-width="1"/>
<polyline points="696.53,348.20 702.42,361.22" fill="none" stroke="#ebebb9" stroke-width="1"/>
<polyline points="702.42,361.22 708.31,375.08" fill="none" stroke="#ececbe" stroke-width="1"/>
<polyline points="119.29,476.40 125.18,444.61" fill="none" stroke="#e6e6e6" stroke-width="1"/>
<polyline points="125.18,444.61 131.07,420.04" fill="none" stroke="#dfdfdf" stroke-width="1"/>
<polyline points="131.07,420.04 136.96,400.19" fill="none" stroke="#d5d5d5" stroke-width="1"/>
<polyline points="136.96,400.19 142.85,383.30" fill="none" stroke="#cccccc" stroke-width="1"/>
<polyline points="142.85,383.30 148.74,368.25" fill="none" stroke="#c5c5c5" stroke-width="1"/>
<polyline points="148.74,368.25 154.63,354.37" fill="none" stroke="#bfbfbf" stroke-width="1"/>
<polyline points="154.63,354.37 160.52,341.27" fill="none" stroke="#bbbbbb" stroke-width="1"/>
<polyline points="160.52,341.27 166.41,328.69" fill="none" stroke="#b8b8b8" stroke-width="1"/>
<polyline points="166.41,328.69 172.30,316.51" fill="none" stroke="#b6b6b6" stroke-width="1"/>
<polyline points="172.30,316.51 178.19,304.62" fill="none" stroke="#b4b4b4" stroke-width="1"/>
<polyline points="178.19,304.62 184.08,293.00" fill="none" stroke="#b2b2b2" stroke-width="1"/>
<polyline points="184.08,293.00 189.97,281.60" fill="none" stroke="#b1b1b1" stroke-width="1"/>
<polyline points="189.97,281.60 195.86,270.41" fill="none" stroke="#afafaf" stroke-width="1"/>
<polyline points="195.86,270.41 201.75,259.42" fill="none" stroke="#aeaeae" stroke-width="1"/>
<polyline points="201.75,259.42 207.64,248.64" fill="none" stroke="#acacac" stroke-width="1"/>
<polyline points="207.64,248.64 213.53,238.06" fill="none" stroke="#ababab" stroke-width="1"/>
<polyline points="213.53,238.06 219.42,227.68" fill="none" stroke="#a9a9a9" stroke-width="1"/>
<polyline points="219.42,227.68 225.31,217.52" fill="none" stroke="#a7a7a7" stroke-width="1"/>
<polyline points="225.31,217.52 231.21,207.57" fill="none" stroke="#a5a5a5" stroke-width="1"/>
<polyline points="231.21,207.57 237.10,197.83" fill="none" stroke="#a3a3a3" stroke-width="1"/>
<polyline points="237.10,197.83 242.99,188.33" fill="none" stroke="#a1a1a1" stroke-width="1"/>
<polyline points="242.99,188.33 248.88,179.05" fill="none" stroke="#9f9f9f" stroke-width="1"/>
<polyline points="248.88,179.05 254.77,170.02" fill="none" stroke="#9d9d9d" stroke-width="1"/>
<polyline points="254.77,170.02 260.66,161.23" fill="none" stroke="#9a9a9a" stroke-width="1"/>
<polyline points="260.66,161.23 266.55,152.68" fill="none" stroke="#989898" stroke-width="1"/>
<polyline points="266.55,152.68 272.44,144.40" fill="none" stroke="#959595" stroke-width="1"/>
<polyline points="272.44,144.40 278.33,136.38" fill="none" stroke="#929292" stroke-width="1"/>
<polyline points="278.33,136.38 284.22,128.62" fill="none" stroke="#8f8f8f" stroke-width="1"/>
<polyline points="284.22,128.62 290.11,121.14" fill="none" stroke="#8c8c8c" stroke-width="1"/>
<polyline points="290.11,121.14 296.00,113.94" fill="none" stroke="#888888" stroke-width="1"/>
<polyline points="296.00,113.94 301.89,107.02" fill="none" stroke="#848484" stroke-width="1"/>
<polyline points="301.89,107.02 307.78,100.40" fill="none" stroke="#808080" stroke-width="1"/>
<polyline points="307.78,100.40 313.67,94.06" fill="none" stroke="#7c7c7c" stroke-width="1"/>
<polyline points="313.67,94.06 319.56,88.03" fill="none" stroke="#787878" stroke-width="1"/>
<polyline points="319.56,88.03 325.45,82.31" fill="none" stroke="#737373" stroke-width="1"/>
<polyline points="325.45,82.31 331.34,76.89" fill="none" stroke="#6e6e6e" stroke-width="1"/>
<polyline points="331.34,76.89 337.23,71.78" fill="none" stroke="#696969" stroke-width="1"/>
<polyline points="337.23,71.78 343.12,67.00" fill="none" stroke="#646464" stroke-width="1"/>
<polyline points="343.12,67.00 349.01,62.53" fill="none" stroke="#5f5f5f" stroke-width="1"/>
<polyline points="349.01,62.53 354.90,58.39" fill="none" stroke="#595959" stroke-width="1"/>
<polyline points="354.90,58.39 360.79,54.57 366.68,51.09 372.57,47.94 378.46,45.12 384.35,42.64 390.24,40.50 396.13,38.71 402.02,37.25 407.91,36.14 413.80,35.37 419.69,34.95 425.58,34.88 431.47,35.15 437.36,35.76 443.25,36.72 449.14,38.02 455.03,39.67 460.92,41.66 466.81,43.99 472.70,46.66 478.59,49.66 484.48,53.00 490.37,56.67" fill="none" stroke="#555555" stroke-width="1"/>
<polyline points="490.37,56.67 496.26,60.67" fill="none" stroke="#575757" stroke-width="1"/>
<polyline points="496.26,60.67 502.15,65.00" fill="none" stroke="#5c5c5c" stroke-width="1"/>
<polyline points="502.15,65.00 508.04,69.64" fill="none" stroke="#626262" stroke-width="1"/>
<polyline points="508.04,69.64 513.93,74.61" fill="none" stroke="#676767" stroke-width="1"/>
<polyline points="513.93,74.61 519.82,79.89" fill="none" stroke="#6c6c6c" stroke-width="1"/>
<polyline points="519.82,79.89 525.71,85.48" fill="none" stroke="#717171" stroke-width="1"/>
<polyline points="525.71,85.48 531.60,91.38" fill="none" stroke="#767676" stroke-width="1"/>
<polyline points="531.60,91.38 537.49,97.58" fill="none" stroke="#7a7a7a" stroke-width="1"/>
<polyline points="537.49,97.58 543.38,104.08" fill="none" stroke="#7f7f7f" stroke-width="1"/>
<polyline points="543.38,104.08 549.27,110.87" fill="none" stroke="#838383" stroke-width="1"/>
<polyline points="549.27,110.87 555.16,117.94" fill="none" stroke="#868686" stroke-width="1"/>
<polyline points="555.16,117.94 561.05,125.30" fill="none" stroke="#8a8a8a" stroke-width="1"/>
<polyline points="561.05,125.30 566.94,132.94" fill="none" stroke="#8d8d8d" stroke-width="1"/>
<polyline points="566.94,132.94 572.83,140.84" fill="none" stroke="#919191" stroke-width="1"/>
<polyline points="572.83,140.84 578.72,149.01" fill="none" stroke="#949494" stroke-width="1"/>
<polyline points="578.72,149.01 584.61,157.44" fill="none" stroke="#979797" stroke-width="1"/>
<polyline points="584.61,157.44 590.50,166.13" fill="none" stroke="#999999" stroke-width="1"/>
<polyline points="590.50,166.13 596.39,175.05" fill="none" stroke="#9c9c9c" stroke-width="1"/>
<polyline points="596.39,175.05 602.29,184.22" fill="none" stroke="#9e9e9e" stroke-width="1"/>
<polyline points="602.29,184.22 608.18,193.63" fill="none" stroke="#a0a0a0" stroke-width="1"/>
<polyline points="608.18,193.63 614.07,203.26" fill="none" stroke="#a3a3a3" stroke-width="1"/>
<polyline points="614.07,203.26 619.96,213.11" fill="none" stroke="#a5a5a5" stroke-width="1"/>
<polyline points="619.96,213.11 625.85,223.18" fill="none" stroke="#a6a6a6" stroke-width="1"/>
<polyline points="625.85,223.18 631.74,233.46" fill="none" stroke="#a8a8a8" stroke-width="1"/>
<polyline points="631.74,233.46 637.63,243.95" fill="none" stroke="#aaaaaa" stroke-width="1"/>
<polyline points="637.63,243.95 643.52,254.63" fill="none" stroke="#ababab" stroke-width="1"/>
<polyline points="643.52,254.63 649.41,265.51" fill="none" stroke="#adadad" stroke-width="1"/>
<polyline points="649.41,265.51 655.30,276.59" fill="none" stroke="#aeaeae" stroke-width="1"/>
<polyline points="655.30,276.59 661.19,287.86" fill="none" stroke="#b0b0b0" stroke-width="1"/>
<polyline points="661.19,287.86 667.08,299.33" fill="none" stroke="#b1b1b1" stroke-width="1"/>
<polyline points="667.08,299.33 672.97,310.99" fill="none" stroke="#b3b3b3" stroke-width="1"/>
<polyline points="672.97,310.99 678.86,322.88" fill="none" stroke="#b4b4b4" stroke-width="1"/>
<polyline points="678.86,322.88 684.75,334.99" fill="none" stroke="#b6b6b6" stroke-width="1"/>
<polyline points="684.75,334.99 690.64,347.39" fill="none" stroke="#b7b7b7" stroke-width="1"/>
<polyline points="690.64,347.39 696.53,360.15" fill="none" stroke="#b9b9b9" stroke-width="1"/>
<polyline points="696.53,360.15 702.42,373.44" fill="none" stroke="#bcbcbc" stroke-width="1"/>
<polyline points="702.42,373.44 708.31,387.78" fill="none" stroke="#c2c2c2" stroke-width="1"/>
<polyline points="119.29,476.40 125.18,427.39" fill="none" stroke="#e6e6f9" stroke-width="1"/>
<polyline points="125.18,427.39 131.07,401.05" fill="none" stroke="#e1e1f8" stroke-width="1"/>
<polyline points="131.07,401.05 136.96,383.12" fill="none" stroke="#d0d0f3" stroke-width="1"/>
<polyline points="136.96,383.12 142.85,368.40" fill="none" stroke="#c4c4f0" stroke-width="1"/>
<polyline points="142.85,368.40 148.74,355.03" fill="none" stroke="#bdbdef" stroke-width="1"/>
<polyline points="148.74,355.03 154.63,342.31" fill="none" stroke="#b9b9ee" stroke-width="1"/>
<polyline points="154.63,342.31 160.52,329.97" fill="none" stroke="#b7b7ed" stroke-width="1"/>
<polyline points="160.52,329.97 166.41,317.92" fill="none" stroke="#b5b5ed" stroke-width="1"/>
<polyline points="166.41,317.92 172.30,306.11" fill="none" stroke="#b4b4ec" stroke-width="1"/>
<polyline points="172.30,306.11 178.19,294.50" fill="none" stroke="#b2b2ec" stroke-width="1"/>
<polyline points="178.19,294.50 184.08,283.09" fill="none" stroke="#b1b1ec" stroke-width="1"/>
<polyline points="184.08,283.09 189.97,271.87" fill="none" stroke="#afafeb" stroke-width="1"/>
<polyline points="189.97,271.87 195.86,260.84" fill="none" stroke="#aeaeeb" stroke-width="1"/>
<polyline points="195.86,260.84 201.75,250.01" fill="none" stroke="#adadeb" stroke-width="1"/>
<polyline points="201.75,250.01 207.64,239.38" fill="none" stroke="#ababea" stroke-width="1"/>
<polyline points="207.64,239.38 213.53,228.95" fill="none" stroke="#a9a9ea" stroke-width="1"/>
<polyline points="213.53,228.95 219.42,218.72" fill="none" stroke="#a8a8e9" stroke-width="1"/>
<polyline points="219.42,218.72 225.31,208.71" fill="none" stroke="#a6a6e9" stroke-width="1"/>
<polyline points="225.31,208.71 231.21,198.92" fill="none" stroke="#a4a4e9" stroke-width="1"/>
<polyline points="231.21,198.92 237.10,189.35" fill="none" stroke="#a2a2e8" stroke-width="1"/>
<polyline points="237.10,189.35 242.99,180.01" fill="none" stroke="#a0a0e7" stroke-width="1"/>
<polyline points="242.99,180.01 248.88,170.91" fill="none" stroke="#9e9ee7" stroke-width="1"/>
<polyline points="248.88,170.91 254.77,162.06" fill="none" stroke="#9b9be6" stroke-width="1"/>
<polyline points="254.77,162.06 260.66,153.45" fill="none" stroke="#9898e6" stroke-width="1"/>
<polyline points="260.66,153.45 266.55,145.10" fill="none" stroke="#9696e5" stroke-width="1"/>
<polyline points="266.55,145.10 272.44,137.01" fill="none" stroke="#9393e4" stroke-width="1"/>
<polyline points="272.44,137.01 278.33,129.18" fill="none" stroke="#9090e4" stroke-width="1"/>
<polyline points="278.33,129.18 284.22,121.63" fill="none" stroke="#8c8ce3" stroke-width="1"/>
<polyline points="284.22,121.63 290.11,114.36" fill="none" stroke="#8989e2" stroke-width="1"/>
<polyline points="290.11,114.36 296.00,107.38" fill="none" stroke="#8585e1" stroke-width="1"/>
<polyline points="296.00,107.38 301.89,100.68" fill="none" stroke="#8181e0" stroke-width="1"/>
<polyline points="301.89,100.68 307.78,94.28" fill="none" stroke="#7d7ddf" stroke-width="1"/>
<polyline points="307.78,94.28 313.67,88.18" fill="none" stroke="#7979de" stroke-width="1"/>
<polyline points="313.67,88.18 319.56,82.38" fill="none" stroke="#7474dd" stroke-width="1"/>
<polyline points="319.56,82.38 325.45,76.90" fill="none" stroke="#6f6fdc" stroke-width="1"/>
<polyline points="325.45,76.90 331.34,71.72" fill="none" stroke="#6a6ada" stroke-width="1"/>
<polyline points="331.34,71.72 337.23,66.86" fill="none" stroke="#6565d9" stroke-width="1"/>
<polyline points="337.23,66.86 343.12,62.33" fill="none" stroke="#6060d8" stroke-width="1"/>
<polyline points="343.12,62.33 349.01,58.12" fill="none" stroke="#5a5ad6" stroke-width="1"/>
<polyline points="349.01,58.12 354.90,54.23 360.79,50.68 366.68,47.46 372.57,44.57 378.46,42.03 384.35,39.82 390.24,37.95 396.13,36.43 402.02,35.26 407.91,34.42 413.80,33.94 419.69,33.80 425.58,34.01 431.47,34.56 437.36,35.46 443.25,36.70 449.14,38.29 455.03,40.22 460.92,42.49 466.81,45.11 472.70,48.06 478.59,51.34 484.48,54.96" fill="none" stroke="#5555d5" stroke-width="1"/>
<polyline points="484.48,54.96 490.37,58.91" fill="none" stroke="#5656d5" stroke-width="1"/>
<polyline points="490.37,58.91 496.26,63.19" fill="none" stroke="#5b5bd7" stroke-width="1"/>
<polyline points="496.26,63.19 502.15,67.79" fill="none" stroke="#6161d8" stroke-width="1"/>
<polyline points="502.15,67.79 508.04,72.70" fill="none" stroke="#6666d9" stroke-width="1"/>
<polyline points="508.04,72.70 513.93,77.94" fill="none" stroke="#6b6bdb" stroke-width="1"/>
<polyline points="513.93,77.94 519.82,83.49" fill="none" stroke="#7070dc" stroke-width="1"/>
<polyline points="519.82,83.49 525.71,89.34" fill="none" stroke="#7575dd" stroke-width="1"/>
<polyline points="525.71,89.34 531.60,95.50" fill="none" stroke="#7a7ade" stroke-width="1"/>
<polyline points="531.60,95.50 537.49,101.96" fill="none" stroke="#7e7edf" stroke-width="1"/>
<polyline points="537.49,101.96 543.38,108.72" fill="none" stroke="#8282e0" stroke-width="1"/>
<polyline points="543.38,108.72 549.27,115.76" fill="none" stroke="#8686e1" stroke-width="1"/>
<polyline points="549.27,115.76 555.16,123.08" fill="none" stroke="#8a8ae2" stroke-width="1"/>
<polyline points="555.16,123.08 561.05,130.68" fill="none" stroke="#8d8de3" stroke-width="1"/>
<polyline points="561.05,130.68 566.94,138.56" fill="none" stroke="#9090e4" stroke-width="1"/>
<polyline points="566.94,138.56 572.83,146.70" fill="none" stroke="#9393e4" stroke-width="1"/>
<polyline points="572.83,146.70 578.72,155.10" fill="none" stroke="#9696e5" stroke-width="1"/>
<polyline points="578.72,155.10 584.61,163.76" fill="none" stroke="#9999e6" stroke-width="1"/>
<polyline points="584.61,163.76 590.50,172.67" fill="none" stroke="#9c9ce6" stroke-width="1"/>
<polyline points="590.50,172.67 596.39,181.81" fill="none" stroke="#9e9ee7" stroke-width="1"/>
<polyline points="596.39,181.81 602.29,191.20" fill="none" stroke="#a0a0e8" stroke-width="1"/>
<polyline points="602.29,191.20 608.18,200.81" fill="none" stroke="#a2a2e8" stroke-width="1"/>
<polyline points="608.18,200.81 614.07,210.64" fill="none" stroke="#a4a4e9" stroke-width="1"/>
<polyline points="614.07,210.64 619.96,220.70" fill="none" stroke="#a6a6e9" stroke-width="1"/>
<polyline points="619.96,220.70 625.85,230.96" fill="none" stroke="#a8a8ea" stroke-width="1"/>
<polyline points="625.85,230.96 631.74,241.43" fill="none" stroke="#aaaaea" stroke-width="1"/>
<polyline points="631.74,241.43 637.63,252.10" fill="none" stroke="#ababea" stroke-width="1"/>
<polyline points="637.63,252.10 643.52,262.97" fill="none" stroke="#adadeb" stroke-width="1"/>
<polyline points="643.52,262.97 649.41,274.03" fill="none" stroke="#aeaeeb" stroke-width="1"/>
<polyline points="649.41,274.03 655.30,285.29" fill="none" stroke="#b0b0eb" stroke-width="1"/>
<polyline points="655.30,285.29 661.19,296.73" fill="none" stroke="#b1b1ec" stroke-width="1"/>
<polyline points="661.19,296.73 667.08,308.38" fill="none" stroke="#b2b2ec" stroke-width="1"/>
<polyline points="667.08,308.38 672.97,320.23" fill="none" stroke="#b4b4ec" stroke-width="1"/>
<polyline points="672.97,320.23 678.86,332.30" fill="none" stroke="#b5b5ed" stroke-width="1"/>
<polyline points="678.86,332.30 684.75,344.63" fill="none" stroke="#b7b7ed" stroke-width="1"/>
<polyline points="684.75,344.63 690.64,357.26" fill="none" stroke="#b9b9ee" stroke-width="1"/>
<polyline points="690.64,357.26 696.53,370.31" fill="none" stroke="#bbbbee" stroke-width="1"/>
<polyline points="696.53,370.31 702.42,384.01" fill="none" stroke="#bfbfef" stroke-width="1"/>
<polyline points="702.42,384.01 708.31,399.14" fill="none" stroke="#c5c5f1" stroke-width="1"/>
<polyline points="119.29,476.40 120.03,475.48 120.76,474.57 121.50,473.64" fill="none" stroke="#e684e6" stroke-width="1.1"/>
<polyline points="121.50,473.64 122.24,472.67 122.97,471.71 123.71,470.72 124.45,469.71 125.18,468.72" fill="none" stroke="#e88de8" stroke-width="1.1"/>
<polyline points="125.18,468.72 125.92,467.67 126.65,466.63 127.39,465.59 128.13,464.51 128.86,463.45 129.60,462.36 130.34,461.27 131.07,460.19 131.81,459.06 132.54,457.94 133.28,456.82" fill="none" stroke="#ea96ea" stroke-width="1.1"/>
<polyline points="133.28,456.82 134.02,455.67" fill="none" stroke="#ec9fec" stroke-width="1.1"/>
<polyline points="134.02,455.67 134.75,454.54" fill="none" stroke="#ea96ea" stroke-width="1.1"/>
<polyline points="134.75,454.54 135.49,453.38 136.23,452.22 136.96,451.07 137.70,449.88 138.44,448.71 139.17,447.53 139.91,446.32 140.64,445.14 141.38,443.93 142.12,442.71 142.85,441.52 143.59,440.28 144.33,439.06 145.06,437.83 145.80,436.59 146.53,435.36" fill="none" stroke="#ec9fec" stroke-width="1.1"/>
<polyline points="146.53,435.36 147.27,434.11 148.01,432.85" fill="none" stroke="#eea8ee" stroke-width="1.1"/>
<polyline points="148.01,432.85 148.74,431.62" fill="none" stroke="#ec9fec" stroke-width="1.1"/>
<polyline points="148.74,431.62 149.48,430.34 150.22,429.08 150.95,427.82 151.69,426.54 152.42,425.28 153.16,423.99 153.90,422.71 154.63,421.44 155.37,420.14 156.11,418.85 156.84,417.56 157.58,416.25 158.31,414.96 159.05,413.65 159.79,412.34 160.52,411.05 161.26,409.72 162.00,408.41 162.73,407.10 163.47,405.77 164.20,404.46 164.94,403.13 165.68,401.80 166.41,400.49 167.15,399.15 167.89,397.82 168.62,396.49 169.36,395.15 170.09,393.82 170.83,392.48 171.57,391.13 172.30,389.81 173.04,388.45 173.78,387.11 174.51,385.77 175.25,384.41 175.98,383.07 176.72,381.72 177.46,380.36 178.19,379.03 178.93,377.66 179.67,376.31 180.40,374.96 181.14,373.60 181.87,372.25 182.61,370.89 183.35,369.53 184.08,368.19 184.82,366.82 185.56,365.46 186.29,364.11 187.03,362.74 187.77,361.39 188.50,360.02 189.24,358.66 189.97,357.32 190.71,355.94 191.45,354.58 192.18,353.23 192.92,351.86 193.66,350.50 194.39,349.14 195.13,347.77 195.86,346.43 196.60,345.05 197.34,343.70 198.07,342.34 198.81,340.97 199.55,339.62 200.28,338.26 201.02,336.90 201.75,335.56 202.49,334.18 203.23,332.83 203.96,331.48 204.70,330.11 205.44,328.77 206.17,327.41 206.91,326.05 207.64,324.72 208.38,323.35 209.12,322.00 209.85,320.66 210.59,319.30 211.33,317.96 212.06,316.60 212.80,315.26 213.53,313.92 214.27,312.57 215.01,311.22 215.74,309.89 216.48,308.54 217.22,307.21 217.95,305.86 218.69,304.52 219.42,303.20 220.16,301.85 220.90,300.52 221.63,299.19 222.37,297.85 223.11,296.53 223.84,295.20 224.58,293.87 225.31,292.56 226.05,291.22 226.79,289.90 227.52,288.59 228.26,287.26 229.00,285.95 229.73,284.63 230.47,283.32 231.21,282.02 231.94,280.69 232.68,279.39 233.41,278.09 234.15,276.77 234.89,275.48 235.62,274.17 236.36,272.87 237.10,271.59 237.83,270.28 238.57,268.99 239.30,267.70 240.04,266.40 240.78,265.13 241.51,263.84 242.25,262.55 242.99,261.28 243.72,259.99 244.46,258.72 245.19,257.45 245.93,256.17 246.67,254.91 247.40,253.63 248.14,252.37 248.88,251.12 249.61,249.84 250.35,248.59 251.08,247.33 251.82,246.07" fill="none" stroke="#eea8ee" stroke-width="1.1"/>
<polyline points="251.82,246.07 252.56,244.83" fill="none" stroke="#ec9fec" stroke-width="1.1"/>
<polyline points="252.56,244.83 253.29,243.58" fill="none" stroke="#eea8ee" stroke-width="1.1"/>
<polyline points="253.29,243.58 254.03,242.33 254.77,241.10" fill="none" stroke="#ec9fec" stroke-width="1.1"/>
<polyline points="254.77,241.10 255.50,239.84" fill="none" stroke="#eea8ee" stroke-width="1.1"/>
<polyline points="255.50,239.84 256.24,238.61 256.97,237.37 257.71,236.13 258.45,234.91 259.18,233.68 259.92,232.45 260.66,231.24 261.39,230.01 262.13,228.79 262.86,227.58 263.60,226.36 264.34,225.16 265.07,223.95 265.81,222.74 266.55,221.55 267.28,220.34 268.02,219.15 268.75,217.96 269.49,216.76 270.23,215.58 270.96,214.39 271.70,213.21 272.44,212.04 273.17,210.86 273.91,209.69 274.64,208.52 275.38,207.35 276.12,206.19 276.85,205.03 277.59,203.87 278.33,202.73 279.06,201.57 279.80,200.42 280.54,199.28 281.27,198.13" fill="none" stroke="#ec9fec" stroke-width="1.1"/>
<polyline points="281.27,198.13 282.01,197.00" fill="none" stroke="#ea96ea" stroke-width="1.1"/>
<polyline points="282.01,197.00 282.74,195.86" fill="none" stroke="#ec9fec" stroke-width="1.1"/>
<polyline points="282.74,195.86 283.48,194.73 284.22,193.61" fill="none" stroke="#ea96ea" stroke-width="1.1"/>
<polyline points="284.22,193.61 284.95,192.47" fill="none" stroke="#ec9fec" stroke-width="1.1"/>
<polyline points="284.95,192.47 285.69,191.35 286.43,190.24 287.16,189.12 287.90,188.01 288.63,186.90 289.37,185.79 290.11,184.70 290.84,183.59 291.58,182.50 292.32,181.41 293.05,180.32 293.79,179.24 294.52,178.15 295.26,177.07 296.00,176.01 296.73,174.93 297.47,173.86 298.21,172.80 298.94,171.74 299.68,170.69 300.41,169.63 301.15,168.58 301.89,167.54 302.62,166.49 303.36,165.46" fill="none" stroke="#ea96ea" stroke-width="1.1"/>
<polyline points="303.36,165.46 304.10,164.42" fill="none" stroke="#e88de8" stroke-width="1.1"/>
<polyline points="304.10,164.42 304.83,163.39" fill="none" stroke="#ea96ea" stroke-width="1.1"/>
<polyline points="304.83,163.39 305.57,162.37 306.30,161.34 307.04,160.32 307.78,159.31 308.51,158.29 309.25,157.28 309.99,156.28 310.72,155.27 311.46,154.28 312.19,153.29 312.93,152.30 313.67,151.32 314.40,150.33 315.14,149.35 315.88,148.38 316.61,147.41 317.35,146.44 318.08,145.48 318.82,144.52 319.56,143.57 320.29,142.61 321.03,141.67" fill="none" stroke="#e88de8" stroke-width="1.1"/>
<polyline points="321.03,141.67 321.77,140.73" fill="none" stroke="#e684e6" stroke-width="1.1"/>
<polyline points="321.77,140.73 322.50,139.79" fill="none" stroke="#e88de8" stroke-width="1.1"/>
<polyline points="322.50,139.79 323.24,138.86 323.98,137.92 324.71,137.00 325.45,136.08 326.18,135.16 326.92,134.24 327.66,133.34 328.39,132.43 329.13,131.53 329.87,130.63 330.60,129.73 331.34,128.85 332.07,127.96 332.81,127.08 333.55,126.21 334.28,125.33 335.02,124.46 335.76,123.60 336.49,122.74" fill="none" stroke="#e684e6" stroke-width="1.1"/>
<polyline points="336.49,122.74 337.23,121.89 337.96,121.03 338.70,120.19 339.44,119.34 340.17,118.50 340.91,117.67 341.65,116.84 342.38,116.01 343.12,115.20 343.85,114.38 344.59,113.57 345.33,112.76 346.06,111.95 346.80,111.16 347.54,110.36 348.27,109.57" fill="none" stroke="#e57ce5" stroke-width="1.1"/>
<polyline points="348.27,109.57 349.01,108.79" fill="none" stroke="#e373e3" stroke-width="1.1"/>
<polyline points="349.01,108.79 349.74,108.00" fill="none" stroke="#e57ce5" stroke-width="1.1"/>
<polyline points="349.74,108.00 350.48,107.23 351.22,106.45 351.95,105.68 352.69,104.92 353.43,104.16 354.16,103.41 354.90,102.66 355.63,101.91 356.37,101.17 357.11,100.44 357.84,99.70 358.58,98.98 359.32,98.25 360.05,97.53" fill="none" stroke="#e373e3" stroke-width="1.1"/>
<polyline points="360.05,97.53 360.79,96.83" fill="none" stroke="#e16ae1" stroke-width="1.1"/>
<polyline points="360.79,96.83 361.52,96.11" fill="none" stroke="#e373e3" stroke-width="1.1"/>
<polyline points="361.52,96.11 362.26,95.41 363.00,94.71 363.73,94.01 364.47,93.32 365.21,92.64 365.94,91.96 366.68,91.28 367.41,90.61 368.15,89.94 368.89,89.28 369.62,88.62 370.36,87.97 371.10,87.32" fill="none" stroke="#e16ae1" stroke-width="1.1"/>
<polyline points="371.10,87.32 371.83,86.68 372.57,86.04 373.31,85.40 374.04,84.77 374.78,84.15 375.51,83.53 376.25,82.92 376.99,82.30 377.72,81.70 378.46,81.10 379.20,80.50 379.93,79.91 380.67,79.33 381.40,78.74" fill="none" stroke="#e062e0" stroke-width="1.1"/>
<polyline points="381.40,78.74 382.14,78.17 382.88,77.59 383.61,77.03 384.35,76.47 385.09,75.91 385.82,75.36 386.56,74.81 387.29,74.27 388.03,73.73 388.77,73.20 389.50,72.67 390.24,72.15 390.98,71.63" fill="none" stroke="#de59de" stroke-width="1.1"/>
<polyline points="390.98,71.63 391.71,71.11 392.45,70.61 393.18,70.10 393.92,69.61 394.66,69.11 395.39,68.62 396.13,68.14 396.87,67.66 397.60,67.19 398.34,66.72 399.07,66.26 399.81,65.80 400.55,65.34 401.28,64.90 402.02,64.45 402.76,64.01 403.49,63.58 404.23,63.15 404.96,62.73 405.70,62.31 406.44,61.90 407.17,61.49 407.91,61.09 408.65,60.69 409.38,60.30 410.12,59.91 410.85,59.52 411.59,59.15 412.33,58.77 413.06,58.41 413.80,58.04 414.54,57.69 415.27,57.33 416.01,56.99 416.75,56.65 417.48,56.31 418.22,55.98 418.95,55.65 419.69,55.33 420.43,55.01 421.16,54.70 421.90,54.40 422.64,54.09 423.37,53.80 424.11,53.51 424.84,53.22 425.58,52.94 426.32,52.67 427.05,52.40 427.79,52.13 428.53,51.87 429.26,51.62 430.00,51.37 430.73,51.13 431.47,50.89 432.21,50.65 432.94,50.42 433.68,50.20 434.42,49.98 435.15,49.77 435.89,49.56 436.62,49.36 437.36,49.16 438.10,48.97 438.83,48.78 439.57,48.60 440.31,48.43 441.04,48.25 441.78,48.09 442.51,47.93 443.25,47.77 443.99,47.62 444.72,47.48 445.46,47.34 446.20,47.20 446.93,47.07 447.67,46.95 448.40,46.83 449.14,46.72 449.88,46.61 450.61,46.51 451.35,46.41 452.09,46.32 452.82,46.23 453.56,46.15 454.29,46.07 455.03,46.00 455.77,45.93 456.50,45.87 457.24,45.82 457.98,45.77 458.71,45.72 459.45,45.68 460.19,45.65 460.92,45.61 461.66,45.59 462.39,45.57 463.13,45.56 463.87,45.55 464.60,45.55 465.34,45.55 466.08,45.56 466.81,45.57 467.55,45.59 468.28,45.61 469.02,45.64 469.76,45.68 470.49,45.71 471.23,45.76 471.97,45.81 472.70,45.86 473.44,45.92 474.17,45.99 474.91,46.06 475.65,46.14 476.38,46.21 477.12,46.30 477.86,46.40 478.59,46.49 479.33,46.59 480.06,46.70 480.80,46.81 481.54,46.93 482.27,47.05 483.01,47.18 483.75,47.32 484.48,47.45 485.22,47.60 485.95,47.75 486.69,47.90 487.43,48.07 488.16,48.23 488.90,48.40 489.64,48.58 490.37,48.75 491.11,48.94 491.84,49.13 492.58,49.33 493.32,49.53 494.05,49.74 494.79,49.95 495.53,50.17 496.26,50.38 497.00,50.62 497.73,50.85 498.47,51.09 499.21,51.33 499.94,51.58 500.68,51.83 501.42,52.10 502.15,52.35 502.89,52.63 503.62,52.90 504.36,53.18 505.10,53.47 505.83,53.75 506.57,54.05 507.31,54.35 508.04,54.65 508.78,54.97 509.52,55.28 510.25,55.60 510.99,55.93 511.72,56.26 512.46,56.60 513.20,56.94 513.93,57.28 514.67,57.64 515.41,58.00 516.14,58.36 516.88,58.73 517.61,59.09 518.35,59.48 519.09,59.86 519.82,60.24 520.56,60.64 521.30,61.04 522.03,61.44 522.77,61.85 523.50,62.26 524.24,62.68 524.98,63.10 525.71,63.52 526.45,63.96 527.19,64.40 527.92,64.84 528.66,65.30 529.39,65.74 530.13,66.20 530.87,66.67 531.60,67.13 532.34,67.61 533.08,68.09 533.81,68.57 534.55,69.06 535.28,69.55 536.02,70.05 536.76,70.56 537.49,71.06" fill="none" stroke="#dc50dc" stroke-width="1.1"/>
<polyline points="537.49,71.06 538.23,71.58" fill="none" stroke="#de59de" stroke-width="1.1"/>
<polyline points="538.23,71.58 538.97,72.10" fill="none" stroke="#dc50dc" stroke-width="1.1"/>
<polyline points="538.97,72.10 539.70,72.62 540.44,73.15 541.17,73.68 541.91,74.22 542.65,74.76 543.38,75.30 544.12,75.86 544.86,76.42 545.59,76.98 546.33,77.55 547.06,78.12 547.80,78.70" fill="none" stroke="#de59de" stroke-width="1.1"/>
<polyline points="547.80,78.70 548.54,79.28" fill="none" stroke="#e062e0" stroke-width="1.1"/>
<polyline points="548.54,79.28 549.27,79.86" fill="none" stroke="#de59de" stroke-width="1.1"/>
<polyline points="549.27,79.86 550.01,80.46 550.75,81.06 551.48,81.66 552.22,82.27 552.96,82.87 553.69,83.49 554.43,84.12 555.16,84.73 555.90,85.37 556.64,86.01 557.37,86.64" fill="none" stroke="#e062e0" stroke-width="1.1"/>
<polyline points="557.37,86.64 558.11,87.29" fill="none" stroke="#e16ae1" stroke-width="1.1"/>
<polyline points="558.11,87.29 558.85,87.94" fill="none" stroke="#e062e0" stroke-width="1.1"/>
<polyline points="558.85,87.94 559.58,88.59 560.32,89.26 561.05,89.91 561.79,90.59 562.53,91.26 563.26,91.93 564.00,92.62 564.74,93.30 565.47,94.00 566.21,94.70 566.94,95.39" fill="none" stroke="#e16ae1" stroke-width="1.1"/>
<polyline points="566.94,95.39 567.68,96.11" fill="none" stroke="#e373e3" stroke-width="1.1"/>
<polyline points="567.68,96.11 568.42,96.82 569.15,97.53" fill="none" stroke="#e16ae1" stroke-width="1.1"/>
<polyline points="569.15,97.53 569.89,98.25 570.63,98.97 571.36,99.71 572.10,100.44 572.83,101.17 573.57,101.92 574.31,102.67 575.04,103.42 575.78,104.18 576.52,104.94 577.25,105.71 577.99,106.48 578.72,107.24" fill="none" stroke="#e373e3" stroke-width="1.1"/>
<polyline points="578.72,107.24 579.46,108.04" fill="none" stroke="#e57ce5" stroke-width="1.1"/>
<polyline points="579.46,108.04 580.20,108.82" fill="none" stroke="#e373e3" stroke-width="1.1"/>
<polyline points="580.20,108.82 580.93,109.60 581.67,110.40 582.41,111.19 583.14,112.00 583.88,112.81 584.61,113.61 585.35,114.44 586.09,115.25 586.82,116.08 587.56,116.91 588.30,117.74 589.03,118.58 589.77,119.43 590.50,120.26" fill="none" stroke="#e57ce5" stroke-width="1.1"/>
<polyline points="590.50,120.26 591.24,121.12" fill="none" stroke="#e684e6" stroke-width="1.1"/>
<polyline points="591.24,121.12 591.98,121.98 592.71,122.83" fill="none" stroke="#e57ce5" stroke-width="1.1"/>
<polyline points="592.71,122.83 593.45,123.70 594.19,124.56 594.92,125.44 595.66,126.32 596.39,127.19 597.13,128.09 597.87,128.98 598.60,129.87 599.34,130.77 600.08,131.67 600.81,132.58 601.55,133.50 602.29,134.40 603.02,135.33 603.76,136.25 604.49,137.18 605.23,138.12 605.97,139.05" fill="none" stroke="#e684e6" stroke-width="1.1"/>
<polyline points="605.97,139.05 606.70,139.99 607.44,140.94" fill="none" stroke="#e88de8" stroke-width="1.1"/>
<polyline points="607.44,140.94 608.18,141.87" fill="none" stroke="#e684e6" stroke-width="1.1"/>
<polyline points="608.18,141.87 608.91,142.84 609.65,143.80 610.38,144.75 611.12,145.73 611.86,146.69 612.59,147.67 613.33,148.65 614.07,149.62 614.80,150.62 615.54,151.60 616.27,152.59 617.01,153.60 617.75,154.59 618.48,155.61 619.22,156.62 619.96,157.62" fill="none" stroke="#e88de8" stroke-width="1.1"/>
<polyline points="619.96,157.62 620.69,158.65" fill="none" stroke="#ea96ea" stroke-width="1.1"/>
<polyline points="620.69,158.65 621.43,159.67 622.16,160.69" fill="none" stroke="#e88de8" stroke-width="1.1"/>
<polyline points="622.16,160.69 622.90,161.73" fill="none" stroke="#ea96ea" stroke-width="1.1"/>
<polyline points="622.90,161.73 623.64,162.76" fill="none" stroke="#e88de8" stroke-width="1.1"/>
<polyline points="623.64,162.76 624.37,163.80 625.11,164.84" fill="none" stroke="#ea96ea" stroke-width="1.1"/>
<polyline points="625.11,164.84 625.85,165.88" fill="none" stroke="#e88de8" stroke-width="1.1"/>
<polyline points="625.85,165.88 626.58,166.94 627.32,167.99 628.05,169.04 628.79,170.11 629.53,171.17 630.26,172.24 631.00,173.32 631.74,174.38 632.47,175.48 633.21,176.56 633.94,177.64 634.68,178.74 635.42,179.83 636.15,180.93 636.89,182.04 637.63,183.13 638.36,184.26 639.10,185.37 639.83,186.48 640.57,187.61 641.31,188.73" fill="none" stroke="#ea96ea" stroke-width="1.1"/>
<polyline points="641.31,188.73 642.04,189.86 642.78,191.00" fill="none" stroke="#ec9fec" stroke-width="1.1"/>
<polyline points="642.78,191.00 643.52,192.12" fill="none" stroke="#ea96ea" stroke-width="1.1"/>
<polyline points="643.52,192.12 644.25,193.27 644.99,194.41 645.73,195.56 646.46,196.72 647.20,197.86 647.93,199.03 648.67,200.19 649.41,201.34 650.14,202.53 650.88,203.69 651.62,204.86 652.35,206.05 653.09,207.23 653.82,208.42 654.56,209.61 655.30,210.79 656.03,212.00 656.77,213.20 657.51,214.40 658.24,215.62 658.98,216.82 659.71,218.04 660.45,219.26 661.19,220.47 661.92,221.71 662.66,222.93 663.40,224.16 664.13,225.41 664.87,226.63 665.60,227.88 666.34,229.13 667.08,230.36" fill="none" stroke="#ec9fec" stroke-width="1.1"/>
<polyline points="667.08,230.36 667.81,231.64 668.55,232.89 669.29,234.14 670.02,235.42 670.76,236.67 671.49,237.95 672.23,239.23 672.97,240.48 673.70,241.78 674.44,243.06 675.18,244.34 675.91,245.65 676.65,246.93 677.38,248.23 678.12,249.54 678.86,250.83 679.59,252.15 680.33,253.46 681.07,254.77 681.80,256.10 682.54,257.41 683.27,258.75 684.01,260.08 684.75,261.39 685.48,262.75 686.22,264.09 686.96,265.43 687.69,266.79 688.43,268.13 689.16,269.49 689.90,270.86 690.64,272.20" fill="none" stroke="#eea8ee" stroke-width="1.1"/>
<polyline points="690.64,272.20 691.37,273.59" fill="none" stroke="#efb0ef" stroke-width="1.1"/>
<polyline points="691.37,273.59 692.11,274.96 692.85,276.33" fill="none" stroke="#eea8ee" stroke-width="1.1"/>
<polyline points="692.85,276.33 693.58,277.72" fill="none" stroke="#efb0ef" stroke-width="1.1"/>
<polyline points="693.58,277.72 694.32,279.09" fill="none" stroke="#eea8ee" stroke-width="1.1"/>
<polyline points="694.32,279.09 695.06,280.49 695.79,281.89" fill="none" stroke="#efb0ef" stroke-width="1.1"/>
<polyline points="695.79,281.89 696.53,283.27" fill="none" stroke="#eea8ee" stroke-width="1.1"/>
<polyline points="696.53,283.27 697.26,284.69 698.00,286.10 698.74,287.50 699.47,288.94 700.21,290.35 700.95,291.79 701.68,293.23 702.42,294.65 703.15,296.12 703.89,297.57 704.63,299.03 705.36,300.52 706.10,301.98 706.84,303.49 707.57,305.00 708.31,306.48" fill="none" stroke="#efb0ef" stroke-width="1.1"/>
<circle cx="119.29" cy="476.40" r="1.15" fill="#cc22cc"/>
<circle cx="125.18" cy="468.79" r="1.15" fill="#cc22cc"/>
<circle cx="131.07" cy="460.33" r="1.15" fill="#cc22cc"/>
<circle cx="136.96" cy="451.30" r="1.15" fill="#cc22cc"/>
<circle cx="142.85" cy="441.84" r="1.15" fill="#cc22cc"/>
<circle cx="148.74" cy="432.03" r="1.15" fill="#cc22cc"/>
<circle cx="154.63" cy="421.95" r="1.15" fill="#cc22cc"/>
<circle cx="160.52" cy="411.66" r="1.15" fill="#cc22cc"/>
<circle cx="166.41" cy="401.20" r="1.15" fill="#cc22cc"/>
<circle cx="172.30" cy="390.61" r="1.15" fill="#cc22cc"/>
<circle cx="178.19" cy="379.94" r="1.15" fill="#cc22cc"/>
<circle cx="184.08" cy="369.20" r="1.15" fill="#cc22cc"/>
<circle cx="189.97" cy="358.43" r="1.15" fill="#cc22cc"/>
<circle cx="195.86" cy="347.65" r="1.15" fill="#cc22cc"/>
<circle cx="201.75" cy="336.88" r="1.15" fill="#cc22cc"/>
<circle cx="207.64" cy="326.15" r="1.15" fill="#cc22cc"/>
<circle cx="213.53" cy="315.46" r="1.15" fill="#cc22cc"/>
<circle cx="219.42" cy="304.84" r="1.15" fill="#cc22cc"/>
<circle cx="225.31" cy="294.30" r="1.15" fill="#cc22cc"/>
<circle cx="231.21" cy="283.86" r="1.15" fill="#cc22cc"/>
<circle cx="237.10" cy="273.53" r="1.15" fill="#cc22cc"/>
<circle cx="242.99" cy="263.33" r="1.15" fill="#cc22cc"/>
<circle cx="248.88" cy="253.26" r="1.15" fill="#cc22cc"/>
<circle cx="254.77" cy="243.34" r="1.15" fill="#cc22cc"/>
<circle cx="260.66" cy="233.58" r="1.15" fill="#cc22cc"/>
<circle cx="266.55" cy="223.99" r="1.15" fill="#cc22cc"/>
<circle cx="272.44" cy="214.57" r="1.15" fill="#cc22cc"/>
<circle cx="278.33" cy="205.35" r="1.15" fill="#cc22cc"/>
<circle cx="284.22" cy="196.32" r="1.15" fill="#cc22cc"/>
<circle cx="290.11" cy="187.50" r="1.15" fill="#cc22cc"/>
<circle cx="296.00" cy="178.89" r="1.15" fill="#cc22cc"/>
<circle cx="301.89" cy="170.51" r="1.15" fill="#cc22cc"/>
<circle cx="307.78" cy="162.36" r="1.15" fill="#cc22cc"/>
<circle cx="313.67" cy="154.45" r="1.15" fill="#cc22cc"/>
<circle cx="319.56" cy="146.78" r="1.15" fill="#cc22cc"/>
<circle cx="325.45" cy="139.36" r="1.15" fill="#cc22cc"/>
<circle cx="331.34" cy="132.21" r="1.15" fill="#cc22cc"/>
<circle cx="337.23" cy="125.31" r="1.15" fill="#cc22cc"/>
<circle cx="343.12" cy="118.69" r="1.15" fill="#cc22cc"/>
<circle cx="349.01" cy="112.34" r="1.15" fill="#cc22cc"/>
<circle cx="354.90" cy="106.28" r="1.15" fill="#cc22cc"/>
<circle cx="360.79" cy="100.50" r="1.15" fill="#cc22cc"/>
<circle cx="366.68" cy="95.01" r="1.15" fill="#cc22cc"/>
<circle cx="372.57" cy="89.82" r="1.15" fill="#cc22cc"/>
<circle cx="378.46" cy="84.94" r="1.15" fill="#cc22cc"/>
<circle cx="384.35" cy="80.35" r="1.15" fill="#cc22cc"/>
<circle cx="390.24" cy="76.07" r="1.15" fill="#cc22cc"/>
<circle cx="396.13" cy="72.11" r="1.15" fill="#cc22cc"/>
<circle cx="402.02" cy="68.46" r="1.15" fill="#cc22cc"/>
<circle cx="407.91" cy="65.13" r="1.15" fill="#cc22cc"/>
<circle cx="413.80" cy="62.12" r="1.15" fill="#cc22cc"/>
<circle cx="419.69" cy="59.43" r="1.15" fill="#cc22cc"/>
<circle cx="425.58" cy="57.07" r="1.15" fill="#cc22cc"/>
<circle cx="431.47" cy="55.03" r="1.15" fill="#cc22cc"/>
<circle cx="437.36" cy="53.33" r="1.15" fill="#cc22cc"/>
<circle cx="443.25" cy="51.96" r="1.15" fill="#cc22cc"/>
<circle cx="449.14" cy="50.91" r="1.15" fill="#cc22cc"/>
<circle cx="455.03" cy="50.20" r="1.15" fill="#cc22cc"/>
<circle cx="460.92" cy="49.83" r="1.15" fill="#cc22cc"/>
<circle cx="466.81" cy="49.78" r="1.15" fill="#cc22cc"/>
<circle cx="472.70" cy="50.07" r="1.15" fill="#cc22cc"/>
<circle cx="478.59" cy="50.70" r="1.15" fill="#cc22cc"/>
<circle cx="484.48" cy="51.65" r="1.15" fill="#cc22cc"/>
<circle cx="490.37" cy="52.94" r="1.15" fill="#cc22cc"/>
<circle cx="496.26" cy="54.56" r="1.15" fill="#cc22cc"/>
<circle cx="502.15" cy="56.51" r="1.15" fill="#cc22cc"/>
<circle cx="508.04" cy="58.79" r="1.15" fill="#cc22cc"/>
<circle cx="513.93" cy="61.40" r="1.15" fill="#cc22cc"/>
<circle cx="519.82" cy="64.33" r="1.15" fill="#cc22cc"/>
<circle cx="525.71" cy="67.58" r="1.15" fill="#cc22cc"/>
<circle cx="531.60" cy="71.16" r="1.15" fill="#cc22cc"/>
<circle cx="537.49" cy="75.05" r="1.15" fill="#cc22cc"/>
<circle cx="543.38" cy="79.25" r="1.15" fill="#cc22cc"/>
<circle cx="549.27" cy="83.77" r="1.15" fill="#cc22cc"/>
<circle cx="555.16" cy="88.60" r="1.15" fill="#cc22cc"/>
<circle cx="561.05" cy="93.72" r="1.15" fill="#cc22cc"/>
<circle cx="566.94" cy="99.15" r="1.15" fill="#cc22cc"/>
<circle cx="572.83" cy="104.88" r="1.15" fill="#cc22cc"/>
<circle cx="578.72" cy="110.90" r="1.15" fill="#cc22cc"/>
<circle cx="584.61" cy="117.20" r="1.15" fill="#cc22cc"/>
<circle cx="590.50" cy="123.79" r="1.15" fill="#cc22cc"/>
<circle cx="596.39" cy="130.65" r="1.15" fill="#cc22cc"/>
<circle cx="602.29" cy="137.79" r="1.15" fill="#cc22cc"/>
<circle cx="608.18" cy="145.20" r="1.15" fill="#cc22cc"/>
<circle cx="614.07" cy="152.87" r="1.15" fill="#cc22cc"/>
<circle cx="619.96" cy="160.79" r="1.15" fill="#cc22cc"/>
<circle cx="625.85" cy="168.97" r="1.15" fill="#cc22cc"/>
<circle cx="631.74" cy="177.39" r="1.15" fill="#cc22cc"/>
<circle cx="637.63" cy="186.06" r="1.15" fill="#cc22cc"/>
<circle cx="643.52" cy="194.96" r="1.15" fill="#cc22cc"/>
<circle cx="649.41" cy="204.09" r="1.15" fill="#cc22cc"/>
<circle cx="655.30" cy="213.45" r="1.15" fill="#cc22cc"/>
<circle cx="661.19" cy="223.03" r="1.15" fill="#cc22cc"/>
<circle cx="667.08" cy="232.84" r="1.15" fill="#cc22cc"/>
<circle cx="672.97" cy="242.86" r="1.15" fill="#cc22cc"/>
<circle cx="678.86" cy="253.10" r="1.15" fill="#cc22cc"/>
<circle cx="684.75" cy="263.57" r="1.15" fill="#cc22cc"/>
<circle cx="690.64" cy="274.27" r="1.15" fill="#cc22cc"/>
<circle cx="696.53" cy="285.23" r="1.15" fill="#cc22cc"/>
<circle cx="702.42" cy="296.50" r="1.15" fill="#cc22cc"/>
<circle cx="708.31" cy="308.22" r="1.15" fill="#cc22cc"/>
<circle cx="119.29" cy="476.40" r="1.15" fill="#106010"/>
<circle cx="125.18" cy="467.94" r="1.15" fill="#106010"/>
<circle cx="131.07" cy="458.63" r="1.15" fill="#106010"/>
<circle cx="136.96" cy="448.78" r="1.15" fill="#106010"/>
<circle cx="142.85" cy="438.53" r="1.15" fill="#106010"/>
<circle cx="148.74" cy="427.99" r="1.15" fill="#106010"/>
<circle cx="154.63" cy="417.22" r="1.15" fill="#106010"/>
<circle cx="160.52" cy="406.29" r="1.15" fill="#106010"/>
<circle cx="166.41" cy="395.25" r="1.15" fill="#106010"/>
<circle cx="172.30" cy="384.12" r="1.15" fill="#106010"/>
<circle cx="178.19" cy="372.95" r="1.15" fill="#106010"/>
<circle cx="184.08" cy="361.75" r="1.15" fill="#106010"/>
<circle cx="189.97" cy="350.57" r="1.15" fill="#106010"/>
<circle cx="195.86" cy="339.41" r="1.15" fill="#106010"/>
<circle cx="201.75" cy="328.31" r="1.15" fill="#106010"/>
<circle cx="207.64" cy="317.27" r="1.15" fill="#106010"/>
<circle cx="213.53" cy="306.31" r="1.15" fill="#106010"/>
<circle cx="219.42" cy="295.45" r="1.15" fill="#106010"/>
<circle cx="225.31" cy="284.70" r="1.15" fill="#106010"/>
<circle cx="231.21" cy="274.07" r="1.15" fill="#106010"/>
<circle cx="237.10" cy="263.58" r="1.15" fill="#106010"/>
<circle cx="242.99" cy="253.24" r="1.15" fill="#106010"/>
<circle cx="248.88" cy="243.06" r="1.15" fill="#106010"/>
<circle cx="254.77" cy="233.05" r="1.15" fill="#106010"/>
<circle cx="260.66" cy="223.22" r="1.15" fill="#106010"/>
<circle cx="266.55" cy="213.57" r="1.15" fill="#106010"/>
<circle cx="272.44" cy="204.12" r="1.15" fill="#106010"/>
<circle cx="278.33" cy="194.88" r="1.15" fill="#106010"/>
<circle cx="284.22" cy="185.85" r="1.15" fill="#106010"/>
<circle cx="290.11" cy="177.05" r="1.15" fill="#106010"/>
<circle cx="296.00" cy="168.47" r="1.15" fill="#106010"/>
<circle cx="301.89" cy="160.13" r="1.15" fill="#106010"/>
<circle cx="307.78" cy="152.04" r="1.15" fill="#106010"/>
<circle cx="313.67" cy="144.19" r="1.15" fill="#106010"/>
<circle cx="319.56" cy="136.61" r="1.15" fill="#106010"/>
<circle cx="325.45" cy="129.28" r="1.15" fill="#106010"/>
<circle cx="331.34" cy="122.23" r="1.15" fill="#106010"/>
<circle cx="337.23" cy="115.45" r="1.15" fill="#106010"/>
<circle cx="343.12" cy="108.96" r="1.15" fill="#106010"/>
<circle cx="349.01" cy="102.75" r="1.15" fill="#106010"/>
<circle cx="354.90" cy="96.83" r="1.15" fill="#106010"/>
<circle cx="360.79" cy="91.21" r="1.15" fill="#106010"/>
<circle cx="366.68" cy="85.89" r="1.15" fill="#106010"/>
<circle cx="372.57" cy="80.87" r="1.15" fill="#106010"/>
<circle cx="378.46" cy="76.17" r="1.15" fill="#106010"/>
<circle cx="384.35" cy="71.77" r="1.15" fill="#106010"/>
<circle cx="390.24" cy="67.69" r="1.15" fill="#106010"/>
<circle cx="396.13" cy="63.94" r="1.15" fill="#106010"/>
<circle cx="402.02" cy="60.50" r="1.15" fill="#106010"/>
<circle cx="407.91" cy="57.39" r="1.15" fill="#106010"/>
<circle cx="413.80" cy="54.61" r="1.15" fill="#106010"/>
<circle cx="419.69" cy="52.15" r="1.15" fill="#106010"/>
<circle cx="425.58" cy="50.03" r="1.15" fill="#106010"/>
<circle cx="431.47" cy="48.25" r="1.15" fill="#106010"/>
<circle cx="437.36" cy="46.79" r="1.15" fill="#106010"/>
<circle cx="443.25" cy="45.68" r="1.15" fill="#106010"/>
<circle cx="449.14" cy="44.90" r="1.15" fill="#106010"/>
<circle cx="455.03" cy="44.46" r="1.15" fill="#106010"/>
<circle cx="460.92" cy="44.35" r="1.15" fill="#106010"/>
<circle cx="466.81" cy="44.59" r="1.15" fill="#106010"/>
<circle cx="472.70" cy="45.16" r="1.15" fill="#106010"/>
<circle cx="478.59" cy="46.07" r="1.15" fill="#106010"/>
<circle cx="484.48" cy="47.32" r="1.15" fill="#106010"/>
<circle cx="490.37" cy="48.90" r="1.15" fill="#106010"/>
<circle cx="496.26" cy="50.82" r="1.15" fill="#106010"/>
<circle cx="502.15" cy="53.07" r="1.15" fill="#106010"/>
<circle cx="508.04" cy="55.65" r="1.15" fill="#106010"/>
<circle cx="513.93" cy="58.56" r="1.15" fill="#106010"/>
<circle cx="519.82" cy="61.80" r="1.15" fill="#106010"/>
<circle cx="525.71" cy="65.37" r="1.15" fill="#106010"/>
<circle cx="531.60" cy="69.25" r="1.15" fill="#106010"/>
<circle cx="537.49" cy="73.46" r="1.15" fill="#106010"/>
<circle cx="543.38" cy="77.98" r="1.15" fill="#106010"/>
<circle cx="549.27" cy="82.81" r="1.15" fill="#106010"/>
<circle cx="555.16" cy="87.95" r="1.15" fill="#106010"/>
<circle cx="561.05" cy="93.40" r="1.15" fill="#106010"/>
<circle cx="566.94" cy="99.14" r="1.15" fill="#106010"/>
<circle cx="572.83" cy="105.19" r="1.15" fill="#106010"/>
<circle cx="578.72" cy="111.52" r="1.15" fill="#106010"/>
<circle cx="584.61" cy="118.14" r="1.15" fill="#106010"/>
<circle cx="590.50" cy="125.05" r="1.15" fill="#106010"/>
<circle cx="596.39" cy="132.23" r="1.15" fill="#106010"/>
<circle cx="602.29" cy="139.68" r="1.15" fill="#106010"/>
<circle cx="608.18" cy="147.40" r="1.15" fill="#106010"/>
<circle cx="614.07" cy="155.38" r="1.15" fill="#106010"/>
<circle cx="619.96" cy="163.62" r="1.15" fill="#106010"/>
<circle cx="625.85" cy="172.10" r="1.15" fill="#106010"/>
<circle cx="631.74" cy="180.84" r="1.15" fill="#106010"/>
<circle cx="637.63" cy="189.81" r="1.15" fill="#106010"/>
<circle cx="643.52" cy="199.01" r="1.15" fill="#106010"/>
<circle cx="649.41" cy="208.44" r="1.15" fill="#106010"/>
<circle cx="655.30" cy="218.10" r="1.15" fill="#106010"/>
<circle cx="661.19" cy="227.98" r="1.15" fill="#106010"/>
<circle cx="667.08" cy="238.07" r="1.15" fill="#106010"/>
<circle cx="672.97" cy="248.39" r="1.15" fill="#106010"/>
<circle cx="678.86" cy="258.92" r="1.15" fill="#106010"/>
<circle cx="684.75" cy="269.67" r="1.15" fill="#106010"/>
<circle cx="690.64" cy="280.67" r="1.15" fill="#106010"/>
<circle cx="696.53" cy="291.92" r="1.15" fill="#106010"/>
<circle cx="702.42" cy="303.49" r="1.15" fill="#106010"/>
<circle cx="708.31" cy="315.55" r="1.15" fill="#106010"/>
<circle cx="119.29" cy="476.40" r="1.15" fill="#a81818"/>
<circle cx="125.18" cy="465.72" r="1.15" fill="#a81818"/>
<circle cx="131.07" cy="454.31" r="1.15" fill="#a81818"/>
<circle cx="136.96" cy="442.52" r="1.15" fill="#a81818"/>
<circle cx="142.85" cy="430.53" r="1.15" fill="#a81818"/>
<circle cx="148.74" cy="418.42" r="1.15" fill="#a81818"/>
<circle cx="154.63" cy="406.27" r="1.15" fill="#a81818"/>
<circle cx="160.52" cy="394.12" r="1.15" fill="#a81818"/>
<circle cx="166.41" cy="382.00" r="1.15" fill="#a81818"/>
<circle cx="172.30" cy="369.95" r="1.15" fill="#a81818"/>
<circle cx="178.19" cy="357.97" r="1.15" fill="#a81818"/>
<circle cx="184.08" cy="346.09" r="1.15" fill="#a81818"/>
<circle cx="189.97" cy="334.33" r="1.15" fill="#a81818"/>
<circle cx="195.86" cy="322.68" r="1.15" fill="#a81818"/>
<circle cx="201.75" cy="311.17" r="1.15" fill="#a81818"/>
<circle cx="207.64" cy="299.81" r="1.15" fill="#a81818"/>
<circle cx="213.53" cy="288.60" r="1.15" fill="#a81818"/>
<circle cx="219.42" cy="277.55" r="1.15" fill="#a81818"/>
<circle cx="225.31" cy="266.67" r="1.15" fill="#a81818"/>
<circle cx="231.21" cy="255.96" r="1.15" fill="#a81818"/>
<circle cx="237.10" cy="245.44" r="1.15" fill="#a81818"/>
<circle cx="242.99" cy="235.12" r="1.15" fill="#a81818"/>
<circle cx="248.88" cy="224.99" r="1.15" fill="#a81818"/>
<circle cx="254.77" cy="215.07" r="1.15" fill="#a81818"/>
<circle cx="260.66" cy="205.35" r="1.15" fill="#a81818"/>
<circle cx="266.55" cy="195.86" r="1.15" fill="#a81818"/>
<circle cx="272.44" cy="186.60" r="1.15" fill="#a81818"/>
<circle cx="278.33" cy="177.57" r="1.15" fill="#a81818"/>
<circle cx="284.22" cy="168.77" r="1.15" fill="#a81818"/>
<circle cx="290.11" cy="160.23" r="1.15" fill="#a81818"/>
<circle cx="296.00" cy="151.93" r="1.15" fill="#a81818"/>
<circle cx="301.89" cy="143.89" r="1.15" fill="#a81818"/>
<circle cx="307.78" cy="136.12" r="1.15" fill="#a81818"/>
<circle cx="313.67" cy="128.61" r="1.15" fill="#a81818"/>
<circle cx="319.56" cy="121.38" r="1.15" fill="#a81818"/>
<circle cx="325.45" cy="114.43" r="1.15" fill="#a81818"/>
<circle cx="331.34" cy="107.77" r="1.15" fill="#a81818"/>
<circle cx="337.23" cy="101.39" r="1.15" fill="#a81818"/>
<circle cx="343.12" cy="95.31" r="1.15" fill="#a81818"/>
<circle cx="349.01" cy="89.53" r="1.15" fill="#a81818"/>
<circle cx="354.90" cy="84.05" r="1.15" fill="#a81818"/>
<circle cx="360.79" cy="78.88" r="1.15" fill="#a81818"/>
<circle cx="366.68" cy="74.03" r="1.15" fill="#a81818"/>
<circle cx="372.57" cy="69.49" r="1.15" fill="#a81818"/>
<circle cx="378.46" cy="65.26" r="1.15" fill="#a81818"/>
<circle cx="384.35" cy="61.36" r="1.15" fill="#a81818"/>
<circle cx="390.24" cy="57.79" r="1.15" fill="#a81818"/>
<circle cx="396.13" cy="54.54" r="1.15" fill="#a81818"/>
<circle cx="402.02" cy="51.63" r="1.15" fill="#a81818"/>
<circle cx="407.91" cy="49.05" r="1.15" fill="#a81818"/>
<circle cx="413.80" cy="46.80" r="1.15" fill="#a81818"/>
<circle cx="419.69" cy="44.89" r="1.15" fill="#a81818"/>
<circle cx="425.58" cy="43.31" r="1.15" fill="#a81818"/>
<circle cx="431.47" cy="42.08" r="1.15" fill="#a81818"/>
<circle cx="437.36" cy="41.18" r="1.15" fill="#a81818"/>
<circle cx="443.25" cy="40.63" r="1.15" fill="#a81818"/>
<circle cx="449.14" cy="40.42" r="1.15" fill="#a81818"/>
<circle cx="455.03" cy="40.55" r="1.15" fill="#a81818"/>
<circle cx="460.92" cy="41.02" r="1.15" fill="#a81818"/>
<circle cx="466.81" cy="41.83" r="1.15" fill="#a81818"/>
<circle cx="472.70" cy="42.98" r="1.15" fill="#a81818"/>
<circle cx="478.59" cy="44.47" r="1.15" fill="#a81818"/>
<circle cx="484.48" cy="46.30" r="1.15" fill="#a81818"/>
<circle cx="490.37" cy="48.47" r="1.15" fill="#a81818"/>
<circle cx="496.26" cy="50.97" r="1.15" fill="#a81818"/>
<circle cx="502.15" cy="53.80" r="1.15" fill="#a81818"/>
<circle cx="508.04" cy="56.97" r="1.15" fill="#a81818"/>
<circle cx="513.93" cy="60.46" r="1.15" fill="#a81818"/>
<circle cx="519.82" cy="64.28" r="1.15" fill="#a81818"/>
<circle cx="525.71" cy="68.42" r="1.15" fill="#a81818"/>
<circle cx="531.60" cy="72.88" r="1.15" fill="#a81818"/>
<circle cx="537.49" cy="77.66" r="1.15" fill="#a81818"/>
<circle cx="543.38" cy="82.75" r="1.15" fill="#a81818"/>
<circle cx="549.27" cy="88.15" r="1.15" fill="#a81818"/>
<circle cx="555.16" cy="93.85" r="1.15" fill="#a81818"/>
<circle cx="561.05" cy="99.86" r="1.15" fill="#a81818"/>
<circle cx="566.94" cy="106.16" r="1.15" fill="#a81818"/>
<circle cx="572.83" cy="112.75" r="1.15" fill="#a81818"/>
<circle cx="578.72" cy="119.63" r="1.15" fill="#a81818"/>
<circle cx="584.61" cy="126.78" r="1.15" fill="#a81818"/>
<circle cx="590.50" cy="134.22" r="1.15" fill="#a81818"/>
<circle cx="596.39" cy="141.92" r="1.15" fill="#a81818"/>
<circle cx="602.29" cy="149.89" r="1.15" fill="#a81818"/>
<circle cx="608.18" cy="158.12" r="1.15" fill="#a81818"/>
<circle cx="614.07" cy="166.60" r="1.15" fill="#a81818"/>
<circle cx="619.96" cy="175.33" r="1.15" fill="#a81818"/>
<circle cx="625.85" cy="184.30" r="1.15" fill="#a81818"/>
<circle cx="631.74" cy="193.50" r="1.15" fill="#a81818"/>
<circle cx="637.63" cy="202.94" r="1.15" fill="#a81818"/>
<circle cx="643.52" cy="212.60" r="1.15" fill="#a81818"/>
<circle cx="649.41" cy="222.48" r="1.15" fill="#a81818"/>
<circle cx="655.30" cy="232.58" r="1.15" fill="#a81818"/>
<circle cx="661.19" cy="242.89" r="1.15" fill="#a81818"/>
<circle cx="667.08" cy="253.41" r="1.15" fill="#a81818"/>
<circle cx="672.97" cy="264.14" r="1.15" fill="#a81818"/>
<circle cx="678.86" cy="275.08" r="1.15" fill="#a81818"/>
<circle cx="684.75" cy="286.24" r="1.15" fill="#a81818"/>
<circle cx="690.64" cy="297.65" r="1.15" fill="#a81818"/>
<circle cx="696.53" cy="309.32" r="1.15" fill="#a81818"/>
<circle cx="702.42" cy="321.33" r="1.15" fill="#a81818"/>
<circle cx="708.31" cy="333.87" r="1.15" fill="#a81818"/>
<circle cx="119.29" cy="476.40" r="1.15" fill="#20a0a0"/>
<circle cx="125.18" cy="461.92" r="1.15" fill="#20a0a0"/>
<circle cx="131.07" cy="447.24" r="1.15" fill="#20a0a0"/>
<circle cx="136.96" cy="432.71" r="1.15" fill="#20a0a0"/>
<circle cx="142.85" cy="418.46" r="1.15" fill="#20a0a0"/>
<circle cx="148.74" cy="404.51" r="1.15" fill="#20a0a0"/>
<circle cx="154.63" cy="390.88" r="1.15" fill="#20a0a0"/>
<circle cx="160.52" cy="377.55" r="1.15" fill="#20a0a0"/>
<circle cx="166.41" cy="364.51" r="1.15" fill="#20a0a0"/>
<circle cx="172.30" cy="351.75" r="1.15" fill="#20a0a0"/>
<circle cx="178.19" cy="339.23" r="1.15" fill="#20a0a0"/>
<circle cx="184.08" cy="326.97" r="1.15" fill="#20a0a0"/>
<circle cx="189.97" cy="314.93" r="1.15" fill="#20a0a0"/>
<circle cx="195.86" cy="303.12" r="1.15" fill="#20a0a0"/>
<circle cx="201.75" cy="291.53" r="1.15" fill="#20a0a0"/>
<circle cx="207.64" cy="280.16" r="1.15" fill="#20a0a0"/>
<circle cx="213.53" cy="268.99" r="1.15" fill="#20a0a0"/>
<circle cx="219.42" cy="258.04" r="1.15" fill="#20a0a0"/>
<circle cx="225.31" cy="247.30" r="1.15" fill="#20a0a0"/>
<circle cx="231.21" cy="236.77" r="1.15" fill="#20a0a0"/>
<circle cx="237.10" cy="226.46" r="1.15" fill="#20a0a0"/>
<circle cx="242.99" cy="216.37" r="1.15" fill="#20a0a0"/>
<circle cx="248.88" cy="206.51" r="1.15" fill="#20a0a0"/>
<circle cx="254.77" cy="196.87" r="1.15" fill="#20a0a0"/>
<circle cx="260.66" cy="187.46" r="1.15" fill="#20a0a0"/>
<circle cx="266.55" cy="178.29" r="1.15" fill="#20a0a0"/>
<circle cx="272.44" cy="169.37" r="1.15" fill="#20a0a0"/>
<circle cx="278.33" cy="160.69" r="1.15" fill="#20a0a0"/>
<circle cx="284.22" cy="152.27" r="1.15" fill="#20a0a0"/>
<circle cx="290.11" cy="144.11" r="1.15" fill="#20a0a0"/>
<circle cx="296.00" cy="136.21" r="1.15" fill="#20a0a0"/>
<circle cx="301.89" cy="128.59" r="1.15" fill="#20a0a0"/>
<circle cx="307.78" cy="121.23" r="1.15" fill="#20a0a0"/>
<circle cx="313.67" cy="114.16" r="1.15" fill="#20a0a0"/>
<circle cx="319.56" cy="107.38" r="1.15" fill="#20a0a0"/>
<circle cx="325.45" cy="100.89" r="1.15" fill="#20a0a0"/>
<circle cx="331.34" cy="94.69" r="1.15" fill="#20a0a0"/>
<circle cx="337.23" cy="88.79" r="1.15" fill="#20a0a0"/>
<circle cx="343.12" cy="83.19" r="1.15" fill="#20a0a0"/>
<circle cx="349.01" cy="77.91" r="1.15" fill="#20a0a0"/>
<circle cx="354.90" cy="72.94" r="1.15" fill="#20a0a0"/>
<circle cx="360.79" cy="68.28" r="1.15" fill="#20a0a0"/>
<circle cx="366.68" cy="63.95" r="1.15" fill="#20a0a0"/>
<circle cx="372.57" cy="59.93" r="1.15" fill="#20a0a0"/>
<circle cx="378.46" cy="56.25" r="1.15" fill="#20a0a0"/>
<circle cx="384.35" cy="52.89" r="1.15" fill="#20a0a0"/>
<circle cx="390.24" cy="49.87" r="1.15" fill="#20a0a0"/>
<circle cx="396.13" cy="47.18" r="1.15" fill="#20a0a0"/>
<circle cx="402.02" cy="44.82" r="1.15" fill="#20a0a0"/>
<circle cx="407.91" cy="42.80" r="1.15" fill="#20a0a0"/>
<circle cx="413.80" cy="41.13" r="1.15" fill="#20a0a0"/>
<circle cx="419.69" cy="39.79" r="1.15" fill="#20a0a0"/>
<circle cx="425.58" cy="38.79" r="1.15" fill="#20a0a0"/>
<circle cx="431.47" cy="38.14" r="1.15" fill="#20a0a0"/>
<circle cx="437.36" cy="37.83" r="1.15" fill="#20a0a0"/>
<circle cx="443.25" cy="37.87" r="1.15" fill="#20a0a0"/>
<circle cx="449.14" cy="38.25" r="1.15" fill="#20a0a0"/>
<circle cx="455.03" cy="38.97" r="1.15" fill="#20a0a0"/>
<circle cx="460.92" cy="40.03" r="1.15" fill="#20a0a0"/>
<circle cx="466.81" cy="41.43" r="1.15" fill="#20a0a0"/>
<circle cx="472.70" cy="43.18" r="1.15" fill="#20a0a0"/>
<circle cx="478.59" cy="45.26" r="1.15" fill="#20a0a0"/>
<circle cx="484.48" cy="47.69" r="1.15" fill="#20a0a0"/>
<circle cx="490.37" cy="50.44" r="1.15" fill="#20a0a0"/>
<circle cx="496.26" cy="53.53" r="1.15" fill="#20a0a0"/>
<circle cx="502.15" cy="56.96" r="1.15" fill="#20a0a0"/>
<circle cx="508.04" cy="60.71" r="1.15" fill="#20a0a0"/>
<circle cx="513.93" cy="64.78" r="1.15" fill="#20a0a0"/>
<circle cx="519.82" cy="69.18" r="1.15" fill="#20a0a0"/>
<circle cx="525.71" cy="73.90" r="1.15" fill="#20a0a0"/>
<circle cx="531.60" cy="78.93" r="1.15" fill="#20a0a0"/>
<circle cx="537.49" cy="84.28" r="1.15" fill="#20a0a0"/>
<circle cx="543.38" cy="89.93" r="1.15" fill="#20a0a0"/>
<circle cx="549.27" cy="95.89" r="1.15" fill="#20a0a0"/>
<circle cx="555.16" cy="102.14" r="1.15" fill="#20a0a0"/>
<circle cx="561.05" cy="108.69" r="1.15" fill="#20a0a0"/>
<circle cx="566.94" cy="115.53" r="1.15" fill="#20a0a0"/>
<circle cx="572.83" cy="122.65" r="1.15" fill="#20a0a0"/>
<circle cx="578.72" cy="130.05" r="1.15" fill="#20a0a0"/>
<circle cx="584.61" cy="137.72" r="1.15" fill="#20a0a0"/>
<circle cx="590.50" cy="145.66" r="1.15" fill="#20a0a0"/>
<circle cx="596.39" cy="153.86" r="1.15" fill="#20a0a0"/>
<circle cx="602.29" cy="162.32" r="1.15" fill="#20a0a0"/>
<circle cx="608.18" cy="171.03" r="1.15" fill="#20a0a0"/>
<circle cx="614.07" cy="179.98" r="1.15" fill="#20a0a0"/>
<circle cx="619.96" cy="189.17" r="1.15" fill="#20a0a0"/>
<circle cx="625.85" cy="198.59" r="1.15" fill="#20a0a0"/>
<circle cx="631.74" cy="208.23" r="1.15" fill="#20a0a0"/>
<circle cx="637.63" cy="218.10" r="1.15" fill="#20a0a0"/>
<circle cx="643.52" cy="228.19" r="1.15" fill="#20a0a0"/>
<circle cx="649.41" cy="238.48" r="1.15" fill="#20a0a0"/>
<circle cx="655.30" cy="248.98" r="1.15" fill="#20a0a0"/>
<circle cx="661.19" cy="259.68" r="1.15" fill="#20a0a0"/>
<circle cx="667.08" cy="270.59" r="1.15" fill="#20a0a0"/>
<circle cx="672.97" cy="281.70" r="1.15" fill="#20a0a0"/>
<circle cx="678.86" cy="293.02" r="1.15" fill="#20a0a0"/>
<circle cx="684.75" cy="304.56" r="1.15" fill="#20a0a0"/>
<circle cx="690.64" cy="316.34" r="1.15" fill="#20a0a0"/>
<circle cx="696.53" cy="328.41" r="1.15" fill="#20a0a0"/>
<circle cx="702.42" cy="340.85" r="1.15" fill="#20a0a0"/>
<circle cx="708.31" cy="353.94" r="1.15" fill="#20a0a0"/>
<circle cx="119.29" cy="476.40" r="1.15" fill="#881888"/>
<circle cx="125.18" cy="458.77" r="1.15" fill="#881888"/>
<circle cx="131.07" cy="441.65" r="1.15" fill="#881888"/>
<circle cx="136.96" cy="425.30" r="1.15" fill="#881888"/>
<circle cx="142.85" cy="409.71" r="1.15" fill="#881888"/>
<circle cx="148.74" cy="394.82" r="1.15" fill="#881888"/>
<circle cx="154.63" cy="380.52" r="1.15" fill="#881888"/>
<circle cx="160.52" cy="366.73" r="1.15" fill="#881888"/>
<circle cx="166.41" cy="353.39" r="1.15" fill="#881888"/>
<circle cx="172.30" cy="340.44" r="1.15" fill="#881888"/>
<circle cx="178.19" cy="327.84" r="1.15" fill="#881888"/>
<circle cx="184.08" cy="315.53" r="1.15" fill="#881888"/>
<circle cx="189.97" cy="303.51" r="1.15" fill="#881888"/>
<circle cx="195.86" cy="291.74" r="1.15" fill="#881888"/>
<circle cx="201.75" cy="280.22" r="1.15" fill="#881888"/>
<circle cx="207.64" cy="268.92" r="1.15" fill="#881888"/>
<circle cx="213.53" cy="257.85" r="1.15" fill="#881888"/>
<circle cx="219.42" cy="247.01" r="1.15" fill="#881888"/>
<circle cx="225.31" cy="236.38" r="1.15" fill="#881888"/>
<circle cx="231.21" cy="225.97" r="1.15" fill="#881888"/>
<circle cx="237.10" cy="215.78" r="1.15" fill="#881888"/>
<circle cx="242.99" cy="205.82" r="1.15" fill="#881888"/>
<circle cx="248.88" cy="196.09" r="1.15" fill="#881888"/>
<circle cx="254.77" cy="186.59" r="1.15" fill="#881888"/>
<circle cx="260.66" cy="177.33" r="1.15" fill="#881888"/>
<circle cx="266.55" cy="168.31" r="1.15" fill="#881888"/>
<circle cx="272.44" cy="159.54" r="1.15" fill="#881888"/>
<circle cx="278.33" cy="151.03" r="1.15" fill="#881888"/>
<circle cx="284.22" cy="142.77" r="1.15" fill="#881888"/>
<circle cx="290.11" cy="134.78" r="1.15" fill="#881888"/>
<circle cx="296.00" cy="127.06" r="1.15" fill="#881888"/>
<circle cx="301.89" cy="119.62" r="1.15" fill="#881888"/>
<circle cx="307.78" cy="112.46" r="1.15" fill="#881888"/>
<circle cx="313.67" cy="105.58" r="1.15" fill="#881888"/>
<circle cx="319.56" cy="99.00" r="1.15" fill="#881888"/>
<circle cx="325.45" cy="92.71" r="1.15" fill="#881888"/>
<circle cx="331.34" cy="86.73" r="1.15" fill="#881888"/>
<circle cx="337.23" cy="81.05" r="1.15" fill="#881888"/>
<circle cx="343.12" cy="75.68" r="1.15" fill="#881888"/>
<circle cx="349.01" cy="70.62" r="1.15" fill="#881888"/>
<circle cx="354.90" cy="65.89" r="1.15" fill="#881888"/>
<circle cx="360.79" cy="61.47" r="1.15" fill="#881888"/>
<circle cx="366.68" cy="57.38" r="1.15" fill="#881888"/>
<circle cx="372.57" cy="53.62" r="1.15" fill="#881888"/>
<circle cx="378.46" cy="50.19" r="1.15" fill="#881888"/>
<circle cx="384.35" cy="47.09" r="1.15" fill="#881888"/>
<circle cx="390.24" cy="44.33" r="1.15" fill="#881888"/>
<circle cx="396.13" cy="41.91" r="1.15" fill="#881888"/>
<circle cx="402.02" cy="39.83" r="1.15" fill="#881888"/>
<circle cx="407.91" cy="38.09" r="1.15" fill="#881888"/>
<circle cx="413.80" cy="36.69" r="1.15" fill="#881888"/>
<circle cx="419.69" cy="35.64" r="1.15" fill="#881888"/>
<circle cx="425.58" cy="34.93" r="1.15" fill="#881888"/>
<circle cx="431.47" cy="34.57" r="1.15" fill="#881888"/>
<circle cx="437.36" cy="34.55" r="1.15" fill="#881888"/>
<circle cx="443.25" cy="34.88" r="1.15" fill="#881888"/>
<circle cx="449.14" cy="35.56" r="1.15" fill="#881888"/>
<circle cx="455.03" cy="36.58" r="1.15" fill="#881888"/>
<circle cx="460.92" cy="37.94" r="1.15" fill="#881888"/>
<circle cx="466.81" cy="39.65" r="1.15" fill="#881888"/>
<circle cx="472.70" cy="41.70" r="1.15" fill="#881888"/>
<circle cx="478.59" cy="44.09" r="1.15" fill="#881888"/>
<circle cx="484.48" cy="46.82" r="1.15" fill="#881888"/>
<circle cx="490.37" cy="49.88" r="1.15" fill="#881888"/>
<circle cx="496.26" cy="53.28" r="1.15" fill="#881888"/>
<circle cx="502.15" cy="57.01" r="1.15" fill="#881888"/>
<circle cx="508.04" cy="61.07" r="1.15" fill="#881888"/>
<circle cx="513.93" cy="65.45" r="1.15" fill="#881888"/>
<circle cx="519.82" cy="70.16" r="1.15" fill="#881888"/>
<circle cx="525.71" cy="75.18" r="1.15" fill="#881888"/>
<circle cx="531.60" cy="80.52" r="1.15" fill="#881888"/>
<circle cx="537.49" cy="86.17" r="1.15" fill="#881888"/>
<circle cx="543.38" cy="92.13" r="1.15" fill="#881888"/>
<circle cx="549.27" cy="98.38" r="1.15" fill="#881888"/>
<circle cx="555.16" cy="104.94" r="1.15" fill="#881888"/>
<circle cx="561.05" cy="111.78" r="1.15" fill="#881888"/>
<circle cx="566.94" cy="118.92" r="1.15" fill="#881888"/>
<circle cx="572.83" cy="126.33" r="1.15" fill="#881888"/>
<circle cx="578.72" cy="134.02" r="1.15" fill="#881888"/>
<circle cx="584.61" cy="141.98" r="1.15" fill="#881888"/>
<circle cx="590.50" cy="150.20" r="1.15" fill="#881888"/>
<circle cx="596.39" cy="158.68" r="1.15" fill="#881888"/>
<circle cx="602.29" cy="167.42" r="1.15" fill="#881888"/>
<circle cx="608.18" cy="176.40" r="1.15" fill="#881888"/>
<circle cx="614.07" cy="185.62" r="1.15" fill="#881888"/>
<circle cx="619.96" cy="195.07" r="1.15" fill="#881888"/>
<circle cx="625.85" cy="204.76" r="1.15" fill="#881888"/>
<circle cx="631.74" cy="214.66" r="1.15" fill="#881888"/>
<circle cx="637.63" cy="224.78" r="1.15" fill="#881888"/>
<circle cx="643.52" cy="235.12" r="1.15" fill="#881888"/>
<circle cx="649.41" cy="245.66" r="1.15" fill="#881888"/>
<circle cx="655.30" cy="256.40" r="1.15" fill="#881888"/>
<circle cx="661.19" cy="267.34" r="1.15" fill="#881888"/>
<circle cx="667.08" cy="278.49" r="1.15" fill="#881888"/>
<circle cx="672.97" cy="289.84" r="1.15" fill="#881888"/>
<circle cx="678.86" cy="301.39" r="1.15" fill="#881888"/>
<circle cx="684.75" cy="313.17" r="1.15" fill="#881888"/>
<circle cx="690.64" cy="325.20" r="1.15" fill="#881888"/>
<circle cx="696.53" cy="337.54" r="1.15" fill="#881888"/>
<circle cx="702.42" cy="350.28" r="1.15" fill="#881888"/>
<circle cx="708.31" cy="363.74" r="1.15" fill="#881888"/>
<circle cx="119.29" cy="476.40" r="1.15" fill="#a8a830"/>
<circle cx="125.18" cy="453.74" r="1.15" fill="#a8a830"/>
<circle cx="131.07" cy="433.31" r="1.15" fill="#a8a830"/>
<circle cx="136.96" cy="414.91" r="1.15" fill="#a8a830"/>
<circle cx="142.85" cy="398.14" r="1.15" fill="#a8a830"/>
<circle cx="148.74" cy="382.62" r="1.15" fill="#a8a830"/>
<circle cx="154.63" cy="368.07" r="1.15" fill="#a8a830"/>
<circle cx="160.52" cy="354.26" r="1.15" fill="#a8a830"/>
<circle cx="166.41" cy="341.02" r="1.15" fill="#a8a830"/>
<circle cx="172.30" cy="328.26" r="1.15" fill="#a8a830"/>
<circle cx="178.19" cy="315.87" r="1.15" fill="#a8a830"/>
<circle cx="184.08" cy="303.80" r="1.15" fill="#a8a830"/>
<circle cx="189.97" cy="292.02" r="1.15" fill="#a8a830"/>
<circle cx="195.86" cy="280.49" r="1.15" fill="#a8a830"/>
<circle cx="201.75" cy="269.19" r="1.15" fill="#a8a830"/>
<circle cx="207.64" cy="258.12" r="1.15" fill="#a8a830"/>
<circle cx="213.53" cy="247.27" r="1.15" fill="#a8a830"/>
<circle cx="219.42" cy="236.63" r="1.15" fill="#a8a830"/>
<circle cx="225.31" cy="226.21" r="1.15" fill="#a8a830"/>
<circle cx="231.21" cy="216.00" r="1.15" fill="#a8a830"/>
<circle cx="237.10" cy="206.02" r="1.15" fill="#a8a830"/>
<circle cx="242.99" cy="196.26" r="1.15" fill="#a8a830"/>
<circle cx="248.88" cy="186.73" r="1.15" fill="#a8a830"/>
<circle cx="254.77" cy="177.44" r="1.15" fill="#a8a830"/>
<circle cx="260.66" cy="168.38" r="1.15" fill="#a8a830"/>
<circle cx="266.55" cy="159.58" r="1.15" fill="#a8a830"/>
<circle cx="272.44" cy="151.02" r="1.15" fill="#a8a830"/>
<circle cx="278.33" cy="142.73" r="1.15" fill="#a8a830"/>
<circle cx="284.22" cy="134.69" r="1.15" fill="#a8a830"/>
<circle cx="290.11" cy="126.93" r="1.15" fill="#a8a830"/>
<circle cx="296.00" cy="119.44" r="1.15" fill="#a8a830"/>
<circle cx="301.89" cy="112.24" r="1.15" fill="#a8a830"/>
<circle cx="307.78" cy="105.32" r="1.15" fill="#a8a830"/>
<circle cx="313.67" cy="98.69" r="1.15" fill="#a8a830"/>
<circle cx="319.56" cy="92.36" r="1.15" fill="#a8a830"/>
<circle cx="325.45" cy="86.33" r="1.15" fill="#a8a830"/>
<circle cx="331.34" cy="80.61" r="1.15" fill="#a8a830"/>
<circle cx="337.23" cy="75.20" r="1.15" fill="#a8a830"/>
<circle cx="343.12" cy="70.10" r="1.15" fill="#a8a830"/>
<circle cx="349.01" cy="65.32" r="1.15" fill="#a8a830"/>
<circle cx="354.90" cy="60.86" r="1.15" fill="#a8a830"/>
<circle cx="360.79" cy="56.73" r="1.15" fill="#a8a830"/>
<circle cx="366.68" cy="52.92" r="1.15" fill="#a8a830"/>
<circle cx="372.57" cy="49.45" r="1.15" fill="#a8a830"/>
<circle cx="378.46" cy="46.31" r="1.15" fill="#a8a830"/>
<circle cx="384.35" cy="43.51" r="1.15" fill="#a8a830"/>
<circle cx="390.24" cy="41.05" r="1.15" fill="#a8a830"/>
<circle cx="396.13" cy="38.93" r="1.15" fill="#a8a830"/>
<circle cx="402.02" cy="37.15" r="1.15" fill="#a8a830"/>
<circle cx="407.91" cy="35.72" r="1.15" fill="#a8a830"/>
<circle cx="413.80" cy="34.63" r="1.15" fill="#a8a830"/>
<circle cx="419.69" cy="33.88" r="1.15" fill="#a8a830"/>
<circle cx="425.58" cy="33.48" r="1.15" fill="#a8a830"/>
<circle cx="431.47" cy="33.43" r="1.15" fill="#a8a830"/>
<circle cx="437.36" cy="33.73" r="1.15" fill="#a8a830"/>
<circle cx="443.25" cy="34.37" r="1.15" fill="#a8a830"/>
<circle cx="449.14" cy="35.36" r="1.15" fill="#a8a830"/>
<circle cx="455.03" cy="36.69" r="1.15" fill="#a8a830"/>
<circle cx="460.92" cy="38.37" r="1.15" fill="#a8a830"/>
<circle cx="466.81" cy="40.39" r="1.15" fill="#a8a830"/>
<circle cx="472.70" cy="42.75" r="1.15" fill="#a8a830"/>
<circle cx="478.59" cy="45.46" r="1.15" fill="#a8a830"/>
<circle cx="484.48" cy="48.49" r="1.15" fill="#a8a830"/>
<circle cx="490.37" cy="51.87" r="1.15" fill="#a8a830"/>
<circle cx="496.26" cy="55.57" r="1.15" fill="#a8a830"/>
<circle cx="502.15" cy="59.61" r="1.15" fill="#a8a830"/>
<circle cx="508.04" cy="63.97" r="1.15" fill="#a8a830"/>
<circle cx="513.93" cy="68.66" r="1.15" fill="#a8a830"/>
<circle cx="519.82" cy="73.66" r="1.15" fill="#a8a830"/>
<circle cx="525.71" cy="78.99" r="1.15" fill="#a8a830"/>
<circle cx="531.60" cy="84.62" r="1.15" fill="#a8a830"/>
<circle cx="537.49" cy="90.56" r="1.15" fill="#a8a830"/>
<circle cx="543.38" cy="96.80" r="1.15" fill="#a8a830"/>
<circle cx="549.27" cy="103.34" r="1.15" fill="#a8a830"/>
<circle cx="555.16" cy="110.17" r="1.15" fill="#a8a830"/>
<circle cx="561.05" cy="117.29" r="1.15" fill="#a8a830"/>
<circle cx="566.94" cy="124.70" r="1.15" fill="#a8a830"/>
<circle cx="572.83" cy="132.38" r="1.15" fill="#a8a830"/>
<circle cx="578.72" cy="140.33" r="1.15" fill="#a8a830"/>
<circle cx="584.61" cy="148.55" r="1.15" fill="#a8a830"/>
<circle cx="590.50" cy="157.02" r="1.15" fill="#a8a830"/>
<circle cx="596.39" cy="165.75" r="1.15" fill="#a8a830"/>
<circle cx="602.29" cy="174.73" r="1.15" fill="#a8a830"/>
<circle cx="608.18" cy="183.95" r="1.15" fill="#a8a830"/>
<circle cx="614.07" cy="193.40" r="1.15" fill="#a8a830"/>
<circle cx="619.96" cy="203.08" r="1.15" fill="#a8a830"/>
<circle cx="625.85" cy="212.99" r="1.15" fill="#a8a830"/>
<circle cx="631.74" cy="223.11" r="1.15" fill="#a8a830"/>
<circle cx="637.63" cy="233.44" r="1.15" fill="#a8a830"/>
<circle cx="643.52" cy="243.98" r="1.15" fill="#a8a830"/>
<circle cx="649.41" cy="254.72" r="1.15" fill="#a8a830"/>
<circle cx="655.30" cy="265.66" r="1.15" fill="#a8a830"/>
<circle cx="661.19" cy="276.80" r="1.15" fill="#a8a830"/>
<circle cx="667.08" cy="288.14" r="1.15" fill="#a8a830"/>
<circle cx="672.97" cy="299.67" r="1.15" fill="#a8a830"/>
<circle cx="678.86" cy="311.42" r="1.15" fill="#a8a830"/>
<circle cx="684.75" cy="323.40" r="1.15" fill="#a8a830"/>
<circle cx="690.64" cy="335.64" r="1.15" fill="#a8a830"/>
<circle cx="696.53" cy="348.20" r="1.15" fill="#a8a830"/>
<circle cx="702.42" cy="361.22" r="1.15" fill="#a8a830"/>
<circle cx="708.31" cy="375.08" r="1.15" fill="#a8a830"/>
<circle cx="119.29" cy="476.40" r="1.15" fill="#404040"/>
<circle cx="125.18" cy="444.61" r="1.15" fill="#404040"/>
<circle cx="131.07" cy="420.04" r="1.15" fill="#404040"/>
<circle cx="136.96" cy="400.19" r="1.15" fill="#404040"/>
<circle cx="142.85" cy="383.30" r="1.15" fill="#404040"/>
<circle cx="148.74" cy="368.25" r="1.15" fill="#404040"/>
<circle cx="154.63" cy="354.37" r="1.15" fill="#404040"/>
<circle cx="160.52" cy="341.27" r="1.15" fill="#404040"/>
<circle cx="166.41" cy="328.69" r="1.15" fill="#404040"/>
<circle cx="172.30" cy="316.51" r="1.15" fill="#404040"/>
<circle cx="178.19" cy="304.62" r="1.15" fill="#404040"/>
<circle cx="184.08" cy="293.00" r="1.15" fill="#404040"/>
<circle cx="189.97" cy="281.60" r="1.15" fill="#404040"/>
<circle cx="195.86" cy="270.41" r="1.15" fill="#404040"/>
<circle cx="201.75" cy="259.42" r="1.15" fill="#404040"/>
<circle cx="207.64" cy="248.64" r="1.15" fill="#404040"/>
<circle cx="213.53" cy="238.06" r="1.15" fill="#404040"/>
<circle cx="219.42" cy="227.68" r="1.15" fill="#404040"/>
<circle cx="225.31" cy="217.52" r="1.15" fill="#404040"/>
<circle cx="231.21" cy="207.57" r="1.15" fill="#404040"/>
<circle cx="237.10" cy="197.83" r="1.15" fill="#404040"/>
<circle cx="242.99" cy="188.33" r="1.15" fill="#404040"/>
<circle cx="248.88" cy="179.05" r="1.15" fill="#404040"/>
<circle cx="254.77" cy="170.02" r="1.15" fill="#404040"/>
<circle cx="260.66" cy="161.23" r="1.15" fill="#404040"/>
<circle cx="266.55" cy="152.68" r="1.15" fill="#404040"/>
<circle cx="272.44" cy="144.40" r="1.15" fill="#404040"/>
<circle cx="278.33" cy="136.38" r="1.15" fill="#404040"/>
<circle cx="284.22" cy="128.62" r="1.15" fill="#404040"/>
<circle cx="290.11" cy="121.14" r="1.15" fill="#404040"/>
<circle cx="296.00" cy="113.94" r="1.15" fill="#404040"/>
<circle cx="301.89" cy="107.02" r="1.15" fill="#404040"/>
<circle cx="307.78" cy="100.40" r="1.15" fill="#404040"/>
<circle cx="313.67" cy="94.06" r="1.15" fill="#404040"/>
<circle cx="319.56" cy="88.03" r="1.15" fill="#404040"/>
<circle cx="325.45" cy="82.31" r="1.15" fill="#404040"/>
<circle cx="331.34" cy="76.89" r="1.15" fill="#404040"/>
<circle cx="337.23" cy="71.78" r="1.15" fill="#404040"/>
<circle cx="343.12" cy="67.00" r="1.15" fill="#404040"/>
<circle cx="349.01" cy="62.53" r="1.15" fill="#404040"/>
<circle cx="354.90" cy="58.39" r="1.15" fill="#404040"/>
<circle cx="360.79" cy="54.57" r="1.15" fill="#404040"/>
<circle cx="366.68" cy="51.09" r="1.15" fill="#404040"/>
<circle cx="372.57" cy="47.94" r="1.15" fill="#404040"/>
<circle cx="378.46" cy="45.12" r="1.15" fill="#404040"/>
<circle cx="384.35" cy="42.64" r="1.15" fill="#404040"/>
<circle cx="390.24" cy="40.50" r="1.15" fill="#404040"/>
<circle cx="396.13" cy="38.71" r="1.15" fill="#404040"/>
<circle cx="402.02" cy="37.25" r="1.15" fill="#404040"/>
<circle cx="407.91" cy="36.14" r="1.15" fill="#404040"/>
<circle cx="413.80" cy="35.37" r="1.15" fill="#404040"/>
<circle cx="419.69" cy="34.95" r="1.15" fill="#404040"/>
<circle cx="425.58" cy="34.88" r="1.15" fill="#404040"/>
<circle cx="431.47" cy="35.15" r="1.15" fill="#404040"/>
<circle cx="437.36" cy="35.76" r="1.15" fill="#404040"/>
<circle cx="443.25" cy="36.72" r="1.15" fill="#404040"/>
<circle cx="449.14" cy="38.02" r="1.15" fill="#404040"/>
<circle cx="455.03" cy="39.67" r="1.15" fill="#404040"/>
<circle cx="460.92" cy="41.66" r="1.15" fill="#404040"/>
<circle cx="466.81" cy="43.99" r="1.15" fill="#404040"/>
<circle cx="472.70" cy="46.66" r="1.15" fill="#404040"/>
<circle cx="478.59" cy="49.66" r="1.15" fill="#404040"/>
<circle cx="484.48" cy="53.00" r="1.15" fill="#404040"/>
<circle cx="490.37" cy="56.67" r="1.15" fill="#404040"/>
<circle cx="496.26" cy="60.67" r="1.15" fill="#404040"/>
<circle cx="502.15" cy="65.00" r="1.15" fill="#404040"/>
<circle cx="508.04" cy="69.64" r="1.15" fill="#404040"/>
<circle cx="513.93" cy="74.61" r="1.15" fill="#404040"/>
<circle cx="519.82" cy="79.89" r="1.15" fill="#404040"/>
<circle cx="525.71" cy="85.48" r="1.15" fill="#404040"/>
<circle cx="531.60" cy="91.38" r="1.15" fill="#404040"/>
<circle cx="537.49" cy="97.58" r="1.15" fill="#404040"/>
<circle cx="543.38" cy="104.08" r="1.15" fill="#404040"/>
<circle cx="549.27" cy="110.87" r="1.15" fill="#404040"/>
<circle cx="555.16" cy="117.94" r="1.15" fill="#404040"/>
<circle cx="561.05" cy="125.30" r="1.15" fill="#404040"/>
<circle cx="566.94" cy="132.94" r="1.15" fill="#404040"/>
<circle cx="572.83" cy="140.84" r="1.15" fill="#404040"/>
<circle cx="578.72" cy="149.01" r="1.15" fill="#404040"/>
<circle cx="584.61" cy="157.44" r="1.15" fill="#404040"/>
<circle cx="590.50" cy="166.13" r="1.15" fill="#404040"/>
<circle cx="596.39" cy="175.05" r="1.15" fill="#404040"/>
<circle cx="602.29" cy="184.22" r="1.15" fill="#404040"/>
<circle cx="608.18" cy="193.63" r="1.15" fill="#404040"/>
<circle cx="614.07" cy="203.26" r="1.15" fill="#404040"/>
<circle cx="619.96" cy="213.11" r="1.15" fill="#404040"/>
<circle cx="625.85" cy="223.18" r="1.15" fill="#404040"/>
<circle cx="631.74" cy="233.46" r="1.15" fill="#404040"/>
<circle cx="637.63" cy="243.95" r="1.15" fill="#404040"/>
<circle cx="643.52" cy="254.63" r="1.15" fill="#404040"/>
<circle cx="649.41" cy="265.51" r="1.15" fill="#404040"/>
<circle cx="655.30" cy="276.59" r="1.15" fill="#404040"/>
<circle cx="661.19" cy="287.86" r="1.15" fill="#404040"/>
<circle cx="667.08" cy="299.33" r="1.15" fill="#404040"/>
<circle cx="672.97" cy="310.99" r="1.15" fill="#404040"/>
<circle cx="678.86" cy="322.88" r="1.15" fill="#404040"/>
<circle cx="684.75" cy="334.99" r="1.15" fill="#404040"/>
<circle cx="690.64" cy="347.39" r="1.15" fill="#404040"/>
<circle cx="696.53" cy="360.15" r="1.15" fill="#404040"/>
<circle cx="702.42" cy="373.44" r="1.15" fill="#404040"/>
<circle cx="708.31" cy="387.78" r="1.15" fill="#404040"/>
<circle cx="119.29" cy="476.40" r="1.15" fill="#0a0a90"/>
<circle cx="125.18" cy="427.39" r="1.15" fill="#0a0a90"/>
<circle cx="131.07" cy="401.05" r="1.15" fill="#0a0a90"/>
<circle cx="136.96" cy="383.12" r="1.15" fill="#0a0a90"/>
<circle cx="142.85" cy="368.40" r="1.15" fill="#0a0a90"/>
<circle cx="148.74" cy="355.03" r="1.15" fill="#0a0a90"/>
<circle cx="154.63" cy="342.31" r="1.15" fill="#0a0a90"/>
<circle cx="160.52" cy="329.97" r="1.15" fill="#0a0a90"/>
<circle cx="166.41" cy="317.92" r="1.15" fill="#0a0a90"/>
<circle cx="172.30" cy="306.11" r="1.15" fill="#0a0a90"/>
<circle cx="178.19" cy="294.50" r="1.15" fill="#0a0a90"/>
<circle cx="184.08" cy="283.09" r="1.15" fill="#0a0a90"/>
<circle cx="189.97" cy="271.87" r="1.15" fill="#0a0a90"/>
<circle cx="195.86" cy="260.84" r="1.15" fill="#0a0a90"/>
<circle cx="201.75" cy="250.01" r="1.15" fill="#0a0a90"/>
<circle cx="207.64" cy="239.38" r="1.15" fill="#0a0a90"/>
<circle cx="213.53" cy="228.95" r="1.15" fill="#0a0a90"/>
<circle cx="219.42" cy="218.72" r="1.15" fill="#0a0a90"/>
<circle cx="225.31" cy="208.71" r="1.15" fill="#0a0a90"/>
<circle cx="231.21" cy="198.92" r="1.15" fill="#0a0a90"/>
<circle cx="237.10" cy="189.35" r="1.15" fill="#0a0a90"/>
<circle cx="242.99" cy="180.01" r="1.15" fill="#0a0a90"/>
<circle cx="248.88" cy="170.91" r="1.15" fill="#0a0a90"/>
<circle cx="254.77" cy="162.06" r="1.15" fill="#0a0a90"/>
<circle cx="260.66" cy="153.45" r="1.15" fill="#0a0a90"/>
<circle cx="266.55" cy="145.10" r="1.15" fill="#0a0a90"/>
<circle cx="272.44" cy="137.01" r="1.15" fill="#0a0a90"/>
<circle cx="278.33" cy="129.18" r="1.15" fill="#0a0a90"/>
<circle cx="284.22" cy="121.63" r="1.15" fill="#0a0a90"/>
<circle cx="290.11" cy="114.36" r="1.15" fill="#0a0a90"/>
<circle cx="296.00" cy="107.38" r="1.15" fill="#0a0a90"/>
<circle cx="301.89" cy="100.68" r="1.15" fill="#0a0a90"/>
<circle cx="307.78" cy="94.28" r="1.15" fill="#0a0a90"/>
<circle cx="313.67" cy="88.18" r="1.15" fill="#0a0a90"/>
<circle cx="319.56" cy="82.38" r="1.15" fill="#0a0a90"/>
<circle cx="325.45" cy="76.90" r="1.15" fill="#0a0a90"/>
<circle cx="331.34" cy="71.72" r="1.15" fill="#0a0a90"/>
<circle cx="337.23" cy="66.86" r="1.15" fill="#0a0a90"/>
<circle cx="343.12" cy="62.33" r="1.15" fill="#0a0a90"/>
<circle cx="349.01" cy="58.12" r="1.15" fill="#0a0a90"/>
<circle cx="354.90" cy="54.23" r="1.15" fill="#0a0a90"/>
<circle cx="360.79" cy="50.68" r="1.15" fill="#0a0a90"/>
<circle cx="366.68" cy="47.46" r="1.15" fill="#0a0a90"/>
<circle cx="372.57" cy="44.57" r="1.15" fill="#0a0a90"/>
<circle cx="378.46" cy="42.03" r="1.15" fill="#0a0a90"/>
<circle cx="384.35" cy="39.82" r="1.15" fill="#0a0a90"/>
<circle cx="390.24" cy="37.95" r="1.15" fill="#0a0a90"/>
<circle cx="396.13" cy="36.43" r="1.15" fill="#0a0a90"/>
<circle cx="402.02" cy="35.26" r="1.15" fill="#0a0a90"/>
<circle cx="407.91" cy="34.42" r="1.15" fill="#0a0a90"/>
<circle cx="413.80" cy="33.94" r="1.15" fill="#0a0a90"/>
<circle cx="419.69" cy="33.80" r="1.15" fill="#0a0a90"/>
<circle cx="425.58" cy="34.01" r="1.15" fill="#0a0a90"/>
<circle cx="431.47" cy="34.56" r="1.15" fill="#0a0a90"/>
<circle cx="437.36" cy="35.46" r="1.15" fill="#0a0a90"/>
<circle cx="443.25" cy="36.70" r="1.15" fill="#0a0a90"/>
<circle cx="449.14" cy="38.29" r="1.15" fill="#0a0a90"/>
<circle cx="455.03" cy="40.22" r="1.15" fill="#0a0a90"/>
<circle cx="460.92" cy="42.49" r="1.15" fill="#0a0a90"/>
<circle cx="466.81" cy="45.11" r="1.15" fill="#0a0a90"/>
<circle cx="472.70" cy="48.06" r="1.15" fill="#0a0a90"/>
<circle cx="478.59" cy="51.34" r="1.15" fill="#0a0a90"/>
<circle cx="484.48" cy="54.96" r="1.15" fill="#0a0a90"/>
<circle cx="490.37" cy="58.91" r="1.15" fill="#0a0a90"/>
<circle cx="496.26" cy="63.19" r="1.15" fill="#0a0a90"/>
<circle cx="502.15" cy="67.79" r="1.15" fill="#0a0a90"/>
<circle cx="508.04" cy="72.70" r="1.15" fill="#0a0a90"/>
<circle cx="513.93" cy="77.94" r="1.15" fill="#0a0a90"/>
<circle cx="519.82" cy="83.49" r="1.15" fill="#0a0a90"/>
<circle cx="525.71" cy="89.34" r="1.15" fill="#0a0a90"/>
<circle cx="531.60" cy="95.50" r="1.15" fill="#0a0a90"/>
<circle cx="537.49" cy="101.96" r="1.15" fill="#0a0a90"/>
<circle cx="543.38" cy="108.72" r="1.15" fill="#0a0a90"/>
<circle cx="549.27" cy="115.76" r="1.15" fill="#0a0a90"/>
<circle cx="555.16" cy="123.08" r="1.15" fill="#0a0a90"/>
<circle cx="561.05" cy="130.68" r="1.15" fill="#0a0a90"/>
<circle cx="566.94" cy="138.56" r="1.15" fill="#0a0a90"/>
<circle cx="572.83" cy="146.70" r="1.15" fill="#0a0a90"/>
<circle cx="578.72" cy="155.10" r="1.15" fill="#0a0a90"/>
<circle cx="584.61" cy="163.76" r="1.15" fill="#0a0a90"/>
<circle cx="590.50" cy="172.67" r="1.15" fill="#0a0a90"/>
<circle cx="596.39" cy="181.81" r="1.15" fill="#0a0a90"/>
<circle cx="602.29" cy="191.20" r="1.15" fill="#0a0a90"/>
<circle cx="608.18" cy="200.81" r="1.15" fill="#0a0a90"/>
<circle cx="614.07" cy="210.64" r="1.15" fill="#0a0a90"/>
<circle cx="619.96" cy="220.70" r="1.15" fill="#0a0a90"/>
<circle cx="625.85" cy="230.96" r="1.15" fill="#0a0a90"/>
<circle cx="631.74" cy="241.43" r="1.15" fill="#0a0a90"/>
<circle cx="637.63" cy="252.10" r="1.15" fill="#0a0a90"/>
<circle cx="643.52" cy="262.97" r="1.15" fill="#0a0a90"/>
<circle cx="649.41" cy="274.03" r="1.15" fill="#0a0a90"/>
<circle cx="655.30" cy="285.29" r="1.15" fill="#0a0a90"/>
<circle cx="661.19" cy="296.73" r="1.15" fill="#0a0a90"/>
<circle cx="667.08" cy="308.38" r="1.15" fill="#0a0a90"/>
<circle cx="672.97" cy="320.23" r="1.15" fill="#0a0a90"/>
<circle cx="678.86" cy="332.30" r="1.15" fill="#0a0a90"/>
<circle cx="684.75" cy="344.63" r="1.15" fill="#0a0a90"/>
<circle cx="690.64" cy="357.26" r="1.15" fill="#0a0a90"/>
<circle cx="696.53" cy="370.31" r="1.15" fill="#0a0a90"/>
<circle cx="702.42" cy="384.01" r="1.15" fill="#0a0a90"/>
<circle cx="708.31" cy="399.14" r="1.15" fill="#0a0a90"/>
</g>
<rect x="73.3" y="6.5" width="681.3" height="469.85" fill="none" stroke="#2a2a2a" stroke-width="1.25"/>
<path d="M73.00,476.4v4.7M101.40,476.4v2.7M129.80,476.4v4.7M158.20,476.4v2.7M186.60,476.4v4.7M215.00,476.4v2.7M243.40,476.4v4.7M271.80,476.4v2.7M300.20,476.4v4.7M328.60,476.4v2.7M357.00,476.4v4.7M385.40,476.4v2.7M413.80,476.4v4.7M442.20,476.4v2.7M470.60,476.4v4.7M499.00,476.4v2.7M527.40,476.4v4.7M555.80,476.4v2.7M584.20,476.4v4.7M612.60,476.4v2.7M641.00,476.4v4.7M669.40,476.4v2.7M697.80,476.4v4.7M726.20,476.4v2.7M754.60,476.4v4.7M73.3,476.40h-4.8M73.3,452.90h-2.3M73.3,429.40h-4.8M73.3,405.90h-2.3M73.3,382.40h-4.8M73.3,358.90h-2.3M73.3,335.40h-4.8M73.3,311.90h-2.3M73.3,288.40h-4.8M73.3,264.90h-2.3M73.3,241.40h-4.8M73.3,217.90h-2.3M73.3,194.40h-4.8M73.3,170.90h-2.3M73.3,147.40h-4.8M73.3,123.90h-2.3M73.3,100.40h-4.8M73.3,76.90h-2.3M73.3,53.40h-4.8M73.3,29.90h-2.3M73.3,6.40h-4.8" stroke="#222" stroke-width="1" fill="none"/>
<g font-family="Liberation Sans" font-size="16" fill="#000" stroke="#000" stroke-width="0.15"><text x="60.34" y="503.5" textLength="23.82" lengthAdjust="spacingAndGlyphs">-12</text><text x="116.88" y="503.5" textLength="24.16" lengthAdjust="spacingAndGlyphs">-10</text><text x="178.47" y="503.5" textLength="14.67" lengthAdjust="spacingAndGlyphs">-8</text><text x="235.22" y="503.5" textLength="14.75" lengthAdjust="spacingAndGlyphs">-6</text><text x="291.98" y="503.5" textLength="14.61" lengthAdjust="spacingAndGlyphs">-4</text><text x="349.12" y="503.5" textLength="14.25" lengthAdjust="spacingAndGlyphs">-2</text><text x="465.56" y="503.5" textLength="8.47" lengthAdjust="spacingAndGlyphs">2</text><text x="522.24" y="503.5" textLength="8.82" lengthAdjust="spacingAndGlyphs">4</text><text x="578.78" y="503.5" textLength="9.11" lengthAdjust="spacingAndGlyphs">6</text><text x="635.75" y="503.5" textLength="8.90" lengthAdjust="spacingAndGlyphs">8</text><text x="687.51" y="503.5" textLength="18.35" lengthAdjust="spacingAndGlyphs">10</text><text x="744.59" y="503.5" textLength="17.99" lengthAdjust="spacingAndGlyphs">12</text><text x="47.36" y="481.80" textLength="8.43" lengthAdjust="spacingAndGlyphs">0</text><text x="31.40" y="434.80" textLength="31.39" lengthAdjust="spacingAndGlyphs">0.04</text><text x="31.40" y="387.80" textLength="31.45" lengthAdjust="spacingAndGlyphs">0.08</text><text x="31.39" y="340.80" textLength="31.08" lengthAdjust="spacingAndGlyphs">0.12</text><text x="31.40" y="293.80" textLength="31.52" lengthAdjust="spacingAndGlyphs">0.16</text><text x="37.71" y="246.80" textLength="21.89" lengthAdjust="spacingAndGlyphs">0.2</text><text x="31.40" y="199.80" textLength="31.39" lengthAdjust="spacingAndGlyphs">0.24</text><text x="31.40" y="152.80" textLength="31.45" lengthAdjust="spacingAndGlyphs">0.28</text><text x="31.39" y="105.80" textLength="31.08" lengthAdjust="spacingAndGlyphs">0.32</text><text x="31.40" y="58.80" textLength="31.52" lengthAdjust="spacingAndGlyphs">0.36</text><text x="37.72" y="11.80" textLength="22.21" lengthAdjust="spacingAndGlyphs">0.4</text></g>
<text x="350.52" y="533.7" font-family="Liberation Sans" font-size="19.6" textLength="131.83" lengthAdjust="spacingAndGlyphs" stroke="#000" stroke-width="0.18">Distance [cm]</text>
<text transform="translate(14.9,380) rotate(-90)" x="-0.98" y="0" font-family="Liberation Sans" font-size="19.6" textLength="274.83" lengthAdjust="spacingAndGlyphs" stroke="#000" stroke-width="0.18">Scalar flux at different angles</text>
<g><rect x="354.5" y="274.8" width="179.5" height="181" fill="#fff"/><path d="M354.5,455.8V274.8H534" fill="none" stroke="#383838" stroke-width="1.4"/><path d="M534,274.3V455.8H354" fill="none" stroke="#747474" stroke-width="1.9"/><line x1="362.8" y1="286.30" x2="430.8" y2="286.30" stroke="#b070c4" stroke-width="1.3"/><line x1="362.8" y1="296.84" x2="430.8" y2="296.84" stroke="#609860" stroke-width="1.3"/><line x1="362.8" y1="307.38" x2="430.8" y2="307.38" stroke="#c06868" stroke-width="1.3"/><line x1="362.8" y1="317.92" x2="430.8" y2="317.92" stroke="#88cccc" stroke-width="1.3"/><line x1="362.8" y1="328.46" x2="430.8" y2="328.46" stroke="#a060b0" stroke-width="1.3"/><line x1="362.8" y1="339.00" x2="430.8" y2="339.00" stroke="#d4d488" stroke-width="1.3"/><line x1="362.8" y1="349.54" x2="430.8" y2="349.54" stroke="#7a7a7a" stroke-width="1.3"/><line x1="362.8" y1="360.08" x2="430.8" y2="360.08" stroke="#7878c4" stroke-width="1.3"/><circle cx="362.9" cy="370.62" r="1.3" fill="#cc22cc"/><circle cx="396.9" cy="370.62" r="1.3" fill="#cc22cc"/><circle cx="431.0" cy="370.62" r="1.3" fill="#cc22cc"/><circle cx="362.9" cy="381.16" r="1.3" fill="#106010"/><circle cx="396.9" cy="381.16" r="1.3" fill="#106010"/><circle cx="431.0" cy="381.16" r="1.3" fill="#106010"/><circle cx="362.9" cy="391.70" r="1.3" fill="#a81818"/><circle cx="396.9" cy="391.70" r="1.3" fill="#a81818"/><circle cx="431.0" cy="391.70" r="1.3" fill="#a81818"/><circle cx="362.9" cy="402.24" r="1.3" fill="#20a0a0"/><circle cx="396.9" cy="402.24" r="1.3" fill="#20a0a0"/><circle cx="431.0" cy="402.24" r="1.3" fill="#20a0a0"/><circle cx="362.9" cy="412.78" r="1.3" fill="#881888"/><circle cx="396.9" cy="412.78" r="1.3" fill="#881888"/><circle cx="431.0" cy="412.78" r="1.3" fill="#881888"/><circle cx="362.9" cy="423.32" r="1.3" fill="#a8a830"/><circle cx="396.9" cy="423.32" r="1.3" fill="#a8a830"/><circle cx="431.0" cy="423.32" r="1.3" fill="#a8a830"/><circle cx="362.9" cy="433.86" r="1.3" fill="#404040"/><circle cx="396.9" cy="433.86" r="1.3" fill="#404040"/><circle cx="431.0" cy="433.86" r="1.3" fill="#404040"/><circle cx="362.9" cy="444.40" r="1.3" fill="#0a0a90"/><circle cx="396.9" cy="444.40" r="1.3" fill="#0a0a90"/><circle cx="431.0" cy="444.40" r="1.3" fill="#0a0a90"/></g>
<g font-family="Liberation Serif" font-size="8.6" fill="#111" stroke="#111" stroke-width="0.3"><text x="440.64" y="287.70" textLength="81.99" lengthAdjust="spacingAndGlyphs">MCNP &lt;mu&gt;=0.99901</text><text x="440.64" y="298.31" textLength="81.81" lengthAdjust="spacingAndGlyphs">MCNP &lt;mu&gt;=0.90019</text><text x="440.64" y="308.92" textLength="82.00" lengthAdjust="spacingAndGlyphs">MCNP &lt;mu&gt;=0.70011</text><text x="440.64" y="319.53" textLength="81.80" lengthAdjust="spacingAndGlyphs">MCNP &lt;mu&gt;=0.50110</text><text x="440.64" y="330.14" textLength="81.71" lengthAdjust="spacingAndGlyphs">MCNP &lt;mu&gt;=0.40337</text><text x="440.64" y="340.75" textLength="81.81" lengthAdjust="spacingAndGlyphs">MCNP &lt;mu&gt;=0.30079</text><text x="440.64" y="351.36" textLength="81.81" lengthAdjust="spacingAndGlyphs">MCNP &lt;mu&gt;=0.19459</text><text x="440.64" y="361.97" textLength="81.71" lengthAdjust="spacingAndGlyphs">MCNP &lt;mu&gt;=0.10167</text><text x="440.41" y="372.58" textLength="68.86" lengthAdjust="spacingAndGlyphs">SN &lt;mu&gt;=0.99907</text><text x="440.41" y="383.19" textLength="68.73" lengthAdjust="spacingAndGlyphs">SN &lt;mu&gt;=0.90024</text><text x="440.41" y="393.80" textLength="68.94" lengthAdjust="spacingAndGlyphs">SN &lt;mu&gt;=0.70015</text><text x="440.40" y="404.41" textLength="68.92" lengthAdjust="spacingAndGlyphs">SN &lt;mu&gt;=0.50113</text><text x="440.40" y="415.02" textLength="68.97" lengthAdjust="spacingAndGlyphs">SN &lt;mu&gt;=0.40339</text><text x="440.40" y="425.63" textLength="69.15" lengthAdjust="spacingAndGlyphs">SN &lt;mu&gt;=0.30081</text><text x="440.40" y="436.24" textLength="69.15" lengthAdjust="spacingAndGlyphs">SN &lt;mu&gt;=0.19461</text><text x="440.41" y="446.85" textLength="68.86" lengthAdjust="spacingAndGlyphs">SN &lt;mu&gt;=0.10167</text></g>
</svg>
</body></html>
